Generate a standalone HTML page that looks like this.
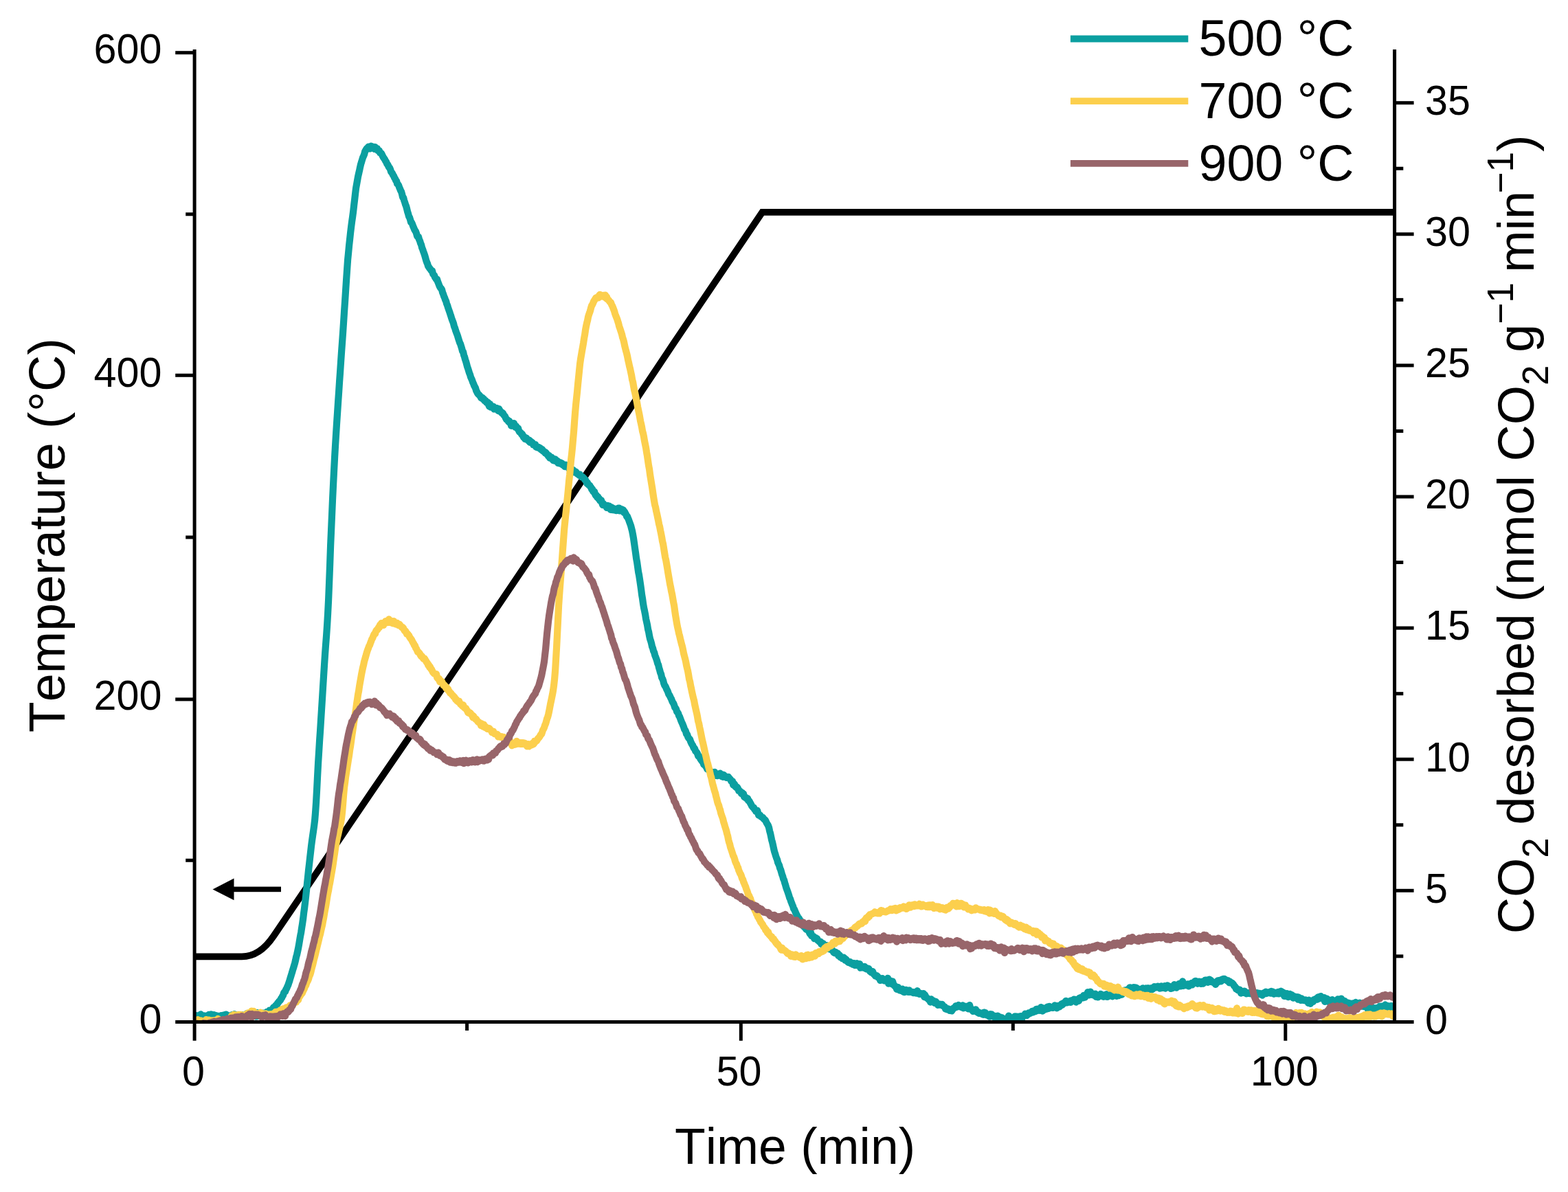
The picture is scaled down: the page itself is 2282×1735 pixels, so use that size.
<!DOCTYPE html>
<html lang="en"><head><meta charset="utf-8"><title>CO2 TPD</title>
<style>html,body{margin:0;padding:0;background:#fff}body{width:2282px;height:1735px;overflow:hidden}svg{display:block}text{font-family:"Liberation Sans", Arial, Helvetica, sans-serif;fill:#000;font-kerning:none;font-variant-ligatures:none}</style></head><body>
<svg xmlns="http://www.w3.org/2000/svg" width="2282" height="1735" viewBox="0 0 2282 1735">
<rect width="2282" height="1735" fill="#fff"/>
<defs><clipPath id="plot"><rect x="283.1" y="71.9" width="1746.5" height="1418.0"/></clipPath></defs>
<g clip-path="url(#plot)" fill="none" stroke-linejoin="round" stroke-linecap="butt">
<path d="M283.1,1392.4 L352,1392.4 Q378.0,1392.4 398.0,1362.8 L542.9,1149.5 L619.8,1037.5 L780.3,799.5 L980.2,500.0 L1109.3,308.9 L2029.6,308.9" stroke="#000" stroke-width="9.8" stroke-linejoin="miter"/>
<path d="M283.1,1479.0 284.1,1481.0 285.1,1480.8 286.1,1478.3 287.1,1478.6 288.1,1478.2 289.1,1479.8 290.1,1478.9 291.1,1480.1 292.1,1476.3 293.1,1481.3 294.1,1478.9 295.1,1480.0 296.1,1478.8 297.1,1478.5 298.1,1479.7 299.1,1480.2 300.1,1478.7 301.1,1478.8 302.1,1480.0 303.1,1477.8 304.1,1476.9 305.1,1479.6 306.1,1478.1 307.1,1476.3 308.1,1478.0 309.1,1478.5 310.1,1477.5 311.1,1477.1 312.1,1479.3 313.1,1480.6 314.1,1479.0 315.1,1478.2 316.1,1479.9 317.1,1480.3 318.1,1478.9 319.1,1480.1 320.1,1480.8 321.1,1479.0 322.1,1478.1 323.1,1479.8 324.1,1479.6 325.1,1480.8 326.1,1477.3 327.1,1478.2 328.1,1477.9 329.1,1476.6 330.1,1479.3 331.1,1479.9 332.1,1478.0 333.1,1481.1 334.1,1480.2 335.1,1479.9 336.1,1479.5 337.1,1480.3 338.1,1477.0 339.1,1479.7 340.1,1479.7 341.1,1476.2 342.1,1479.2 343.1,1478.2 344.1,1479.7 345.1,1477.8 346.1,1478.4 347.1,1478.8 348.1,1477.0 349.1,1479.1 350.1,1478.0 351.1,1478.8 352.1,1477.2 353.1,1479.5 354.1,1478.7 355.1,1477.5 356.1,1478.7 357.1,1479.5 358.1,1480.2 359.1,1475.3 360.1,1478.8 361.1,1478.1 362.1,1477.2 363.1,1475.8 364.1,1479.0 365.1,1475.3 366.1,1477.9 367.1,1478.9 368.1,1474.6 369.1,1476.4 370.1,1474.9 371.1,1477.1 372.1,1478.8 373.1,1479.5 374.1,1474.0 375.1,1475.6 376.1,1477.4 377.1,1478.6 378.1,1476.9 379.1,1475.1 380.1,1476.5 381.1,1476.0 382.1,1475.6 383.1,1474.7 384.1,1476.2 385.1,1475.9 386.1,1475.1 387.1,1474.7 388.1,1472.9 389.1,1473.5 390.1,1475.0 391.1,1472.7 392.1,1470.7 393.1,1473.1 394.1,1471.4 395.1,1472.3 396.1,1469.3 397.1,1468.0 398.1,1466.2 399.1,1467.9 400.1,1467.9 401.1,1463.8 402.1,1462.7 403.1,1462.5 404.1,1460.0 405.1,1459.1 406.1,1457.6 407.1,1456.6 408.1,1455.7 409.1,1453.4 410.1,1452.5 411.1,1449.9 412.1,1448.7 413.1,1445.2 414.1,1443.8 415.1,1443.3 416.1,1440.3 417.1,1438.8 418.1,1436.3 419.1,1434.3 420.1,1431.3 421.1,1428.6 422.1,1425.0 423.1,1421.7 424.1,1418.5 425.1,1415.3 426.1,1411.7 427.1,1408.6 428.1,1405.3 429.1,1401.8 430.1,1397.7 431.1,1392.9 432.1,1389.4 433.1,1384.8 434.1,1380.2 435.1,1374.7 436.1,1368.5 437.1,1362.5 438.1,1357.6 439.1,1350.7 440.1,1344.5 441.1,1337.6 442.1,1329.0 443.1,1321.7 444.1,1313.5 445.1,1304.6 446.1,1295.0 447.1,1285.3 448.1,1276.0 449.1,1266.1 450.1,1257.7 451.1,1248.5 452.1,1239.9 453.1,1231.0 454.1,1223.3 455.1,1216.3 456.1,1209.4 457.1,1202.4 458.1,1194.2 459.1,1182.3 460.1,1167.7 461.1,1149.4 462.1,1129.5 463.1,1110.6 464.1,1094.5 465.1,1077.9 466.1,1063.3 467.1,1047.1 468.1,1031.3 469.1,1015.4 470.1,998.9 471.1,983.0 472.1,966.8 473.1,951.6 474.1,937.8 475.1,925.0 476.1,910.1 477.1,893.3 478.1,873.3 479.1,848.4 480.1,822.8 481.1,794.4 482.1,771.3 483.1,748.4 484.1,725.2 485.1,704.5 486.1,684.5 487.1,665.2 488.1,647.5 489.1,631.4 490.1,615.4 491.1,600.3 492.1,585.2 493.1,570.7 494.1,555.2 495.1,541.1 496.1,526.0 497.1,511.4 498.1,497.7 499.1,483.7 500.1,468.5 501.1,452.7 502.1,438.2 503.1,422.5 504.1,407.0 505.1,392.3 506.1,378.1 507.1,367.9 508.1,357.3 509.1,348.1 510.1,338.7 511.1,330.4 512.1,322.7 513.1,315.7 514.1,308.3 515.1,299.1 516.1,290.9 517.1,281.9 518.1,273.6 519.1,268.1 520.1,262.5 521.1,256.9 522.1,252.5 523.1,248.2 524.1,243.3 525.1,239.0 526.1,235.9 527.1,232.4 528.1,229.2 529.1,227.1 530.1,224.8 531.1,220.7 532.1,218.8 533.1,217.1 534.1,215.7 535.1,215.5 536.1,213.7 537.1,214.8 538.1,216.5 539.1,214.7 540.1,212.6 541.1,214.5 542.1,215.6 543.1,214.6 544.1,213.8 545.1,216.9 546.1,214.0 547.1,216.6 548.1,216.7 549.1,216.3 550.1,219.6 551.1,219.8 552.1,219.7 553.1,222.5 554.1,223.0 555.1,223.2 556.1,225.5 557.1,227.6 558.1,229.4 559.1,230.7 560.1,232.3 561.1,234.3 562.1,235.6 563.1,238.3 564.1,239.4 565.1,241.4 566.1,243.5 567.1,244.4 568.1,246.6 569.1,250.0 570.1,251.1 571.1,252.6 572.1,254.9 573.1,256.3 574.1,258.7 575.1,260.1 576.1,262.7 577.1,263.5 578.1,267.4 579.1,268.3 580.1,269.7 581.1,272.6 582.1,274.8 583.1,277.4 584.1,279.1 585.1,282.6 586.1,287.3 587.1,287.6 588.1,291.6 589.1,294.4 590.1,297.8 591.1,300.1 592.1,303.9 593.1,308.2 594.1,311.2 595.1,315.1 596.1,316.6 597.1,319.7 598.1,323.7 599.1,324.0 600.1,326.3 601.1,329.1 602.1,331.3 603.1,333.9 604.1,335.6 605.1,337.1 606.1,339.9 607.1,343.6 608.1,345.0 609.1,344.9 610.1,348.8 611.1,350.8 612.1,354.2 613.1,356.4 614.1,360.5 615.1,362.9 616.1,365.9 617.1,368.6 618.1,371.5 619.1,375.0 620.1,378.8 621.1,381.6 622.1,383.9 623.1,387.3 624.1,388.7 625.1,390.3 626.1,391.4 627.1,393.0 628.1,394.5 629.1,394.4 630.1,398.6 631.1,399.9 632.1,401.0 633.1,403.7 634.1,405.0 635.1,406.8 636.1,406.7 637.1,410.0 638.1,412.4 639.1,415.1 640.1,417.3 641.1,419.2 642.1,419.9 643.1,421.7 644.1,425.8 645.1,428.1 646.1,431.3 647.1,433.4 648.1,436.4 649.1,438.3 650.1,442.1 651.1,444.5 652.1,447.8 653.1,450.7 654.1,453.4 655.1,456.6 656.1,459.5 657.1,462.9 658.1,465.8 659.1,468.2 660.1,471.2 661.1,475.4 662.1,477.5 663.1,481.1 664.1,483.8 665.1,486.3 666.1,489.2 667.1,492.6 668.1,495.7 669.1,498.8 670.1,500.7 671.1,504.0 672.1,507.3 673.1,511.2 674.1,512.2 675.1,516.9 676.1,519.6 677.1,523.4 678.1,526.2 679.1,529.8 680.1,533.7 681.1,536.4 682.1,539.8 683.1,543.0 684.1,545.4 685.1,549.0 686.1,551.2 687.1,553.4 688.1,556.3 689.1,558.5 690.1,561.3 691.1,563.1 692.1,565.0 693.1,568.6 694.1,570.4 695.1,572.5 696.1,573.8 697.1,574.7 698.1,575.7 699.1,576.9 700.1,579.0 701.1,579.3 702.1,578.8 703.1,581.1 704.1,580.7 705.1,583.2 706.1,582.8 707.1,583.6 708.1,585.9 709.1,586.6 710.1,585.8 711.1,589.1 712.1,591.4 713.1,588.2 714.1,592.6 715.1,590.6 716.1,591.5 717.1,592.5 718.1,591.7 719.1,595.5 720.1,595.2 721.1,594.1 722.1,595.2 723.1,594.0 724.1,595.9 725.1,597.9 726.1,595.1 727.1,597.1 728.1,598.3 729.1,599.9 730.1,601.1 731.1,600.6 732.1,601.7 733.1,604.1 734.1,604.9 735.1,606.3 736.1,608.7 737.1,610.6 738.1,610.8 739.1,611.9 740.1,613.9 741.1,612.8 742.1,615.6 743.1,615.4 744.1,619.8 745.1,618.5 746.1,618.3 747.1,618.3 748.1,616.1 749.1,620.3 750.1,621.8 751.1,620.3 752.1,622.7 753.1,623.9 754.1,623.4 755.1,626.9 756.1,628.7 757.1,629.2 758.1,630.3 759.1,632.3 760.1,631.9 761.1,634.6 762.1,636.7 763.1,635.9 764.1,639.0 765.1,638.5 766.1,637.5 767.1,640.2 768.1,639.8 769.1,641.9 770.1,640.6 771.1,643.8 772.1,642.3 773.1,644.1 774.1,643.7 775.1,644.8 776.1,647.2 777.1,647.0 778.1,647.2 779.1,647.1 780.1,650.5 781.1,650.9 782.1,650.5 783.1,651.8 784.1,651.0 785.1,651.6 786.1,652.3 787.1,654.3 788.1,654.8 789.1,654.1 790.1,656.4 791.1,657.1 792.1,657.1 793.1,658.9 794.1,658.5 795.1,659.7 796.1,661.4 797.1,662.1 798.1,664.0 799.1,663.0 800.1,666.6 801.1,665.2 802.1,666.5 803.1,665.8 804.1,668.7 805.1,670.1 806.1,670.4 807.1,670.7 808.1,668.4 809.1,669.8 810.1,670.8 811.1,670.8 812.1,673.9 813.1,673.3 814.1,673.6 815.1,674.7 816.1,673.5 817.1,674.1 818.1,674.7 819.1,676.9 820.1,677.2 821.1,678.0 822.1,679.2 823.1,676.6 824.1,678.1 825.1,679.5 826.1,678.2 827.1,679.7 828.1,682.1 829.1,682.8 830.1,683.4 831.1,682.7 832.1,683.1 833.1,685.2 834.1,684.2 835.1,685.7 836.1,687.5 837.1,686.3 838.1,686.8 839.1,688.2 840.1,689.6 841.1,690.3 842.1,690.7 843.1,692.0 844.1,690.6 845.1,692.2 846.1,694.1 847.1,693.8 848.1,694.3 849.1,695.3 850.1,696.5 851.1,698.2 852.1,698.5 853.1,700.8 854.1,703.2 855.1,702.9 856.1,705.4 857.1,706.0 858.1,706.3 859.1,708.4 860.1,709.3 861.1,712.1 862.1,712.0 863.1,715.3 864.1,716.2 865.1,715.6 866.1,719.3 867.1,721.4 868.1,721.0 869.1,723.9 870.1,723.0 871.1,726.0 872.1,725.6 873.1,728.6 874.1,727.8 875.1,728.2 876.1,732.0 877.1,734.9 878.1,733.0 879.1,735.4 880.1,735.4 881.1,735.6 882.1,737.2 883.1,739.0 884.1,735.9 885.1,738.6 886.1,738.7 887.1,736.7 888.1,741.2 889.1,742.0 890.1,738.3 891.1,742.2 892.1,740.1 893.1,740.0 894.1,742.5 895.1,740.9 896.1,741.2 897.1,743.1 898.1,743.0 899.1,742.6 900.1,739.6 901.1,739.6 902.1,743.5 903.1,740.9 904.1,742.6 905.1,741.4 906.1,742.9 907.1,742.4 908.1,746.1 909.1,745.0 910.1,747.2 911.1,748.9 912.1,751.7 913.1,751.8 914.1,754.7 915.1,756.9 916.1,759.8 917.1,762.5 918.1,765.2 919.1,769.2 920.1,773.1 921.1,778.4 922.1,784.2 923.1,791.2 924.1,798.4 925.1,805.3 926.1,812.8 927.1,818.3 928.1,825.4 929.1,832.6 930.1,837.4 931.1,844.0 932.1,850.8 933.1,857.9 934.1,865.9 935.1,871.7 936.1,879.1 937.1,884.9 938.1,889.4 939.1,894.5 940.1,900.9 941.1,905.4 942.1,909.9 943.1,916.2 944.1,919.8 945.1,925.6 946.1,930.1 947.1,933.0 948.1,936.7 949.1,941.3 950.1,943.6 951.1,947.7 952.1,949.6 953.1,953.6 954.1,956.1 955.1,958.9 956.1,961.7 957.1,965.6 958.1,967.7 959.1,972.0 960.1,975.3 961.1,979.1 962.1,981.4 963.1,986.1 964.1,988.0 965.1,990.4 966.1,994.6 967.1,997.3 968.1,998.6 969.1,1000.4 970.1,1003.1 971.1,1004.8 972.1,1007.1 973.1,1010.3 974.1,1011.6 975.1,1013.5 976.1,1015.7 977.1,1017.5 978.1,1020.3 979.1,1022.4 980.1,1023.8 981.1,1026.2 982.1,1029.7 983.1,1030.7 984.1,1032.4 985.1,1036.0 986.1,1036.9 987.1,1038.5 988.1,1041.8 989.1,1043.2 990.1,1045.9 991.1,1048.8 992.1,1051.1 993.1,1053.2 994.1,1055.8 995.1,1058.2 996.1,1061.6 997.1,1062.7 998.1,1064.9 999.1,1068.6 1000.1,1069.0 1001.1,1072.3 1002.1,1074.2 1003.1,1075.2 1004.1,1076.3 1005.1,1079.4 1006.1,1081.5 1007.1,1083.5 1008.1,1084.8 1009.1,1087.4 1010.1,1089.4 1011.1,1089.6 1012.1,1093.1 1013.1,1094.0 1014.1,1095.2 1015.1,1097.1 1016.1,1100.3 1017.1,1101.4 1018.1,1101.1 1019.1,1104.1 1020.1,1105.6 1021.1,1107.1 1022.1,1108.4 1023.1,1109.2 1024.1,1112.4 1025.1,1112.4 1026.1,1114.3 1027.1,1115.5 1028.1,1116.7 1029.1,1119.2 1030.1,1120.0 1031.1,1120.0 1032.1,1120.6 1033.1,1121.8 1034.1,1124.1 1035.1,1123.9 1036.1,1124.6 1037.1,1124.5 1038.1,1125.1 1039.1,1126.2 1040.1,1123.8 1041.1,1128.8 1042.1,1125.7 1043.1,1126.2 1044.1,1129.1 1045.1,1127.7 1046.1,1127.6 1047.1,1126.8 1048.1,1125.7 1049.1,1128.3 1050.1,1130.0 1051.1,1127.4 1052.1,1130.8 1053.1,1127.8 1054.1,1128.7 1055.1,1130.8 1056.1,1130.6 1057.1,1131.9 1058.1,1130.7 1059.1,1131.1 1060.1,1130.9 1061.1,1132.5 1062.1,1133.6 1063.1,1134.4 1064.1,1137.1 1065.1,1137.3 1066.1,1137.3 1067.1,1142.4 1068.1,1140.6 1069.1,1141.4 1070.1,1144.8 1071.1,1145.9 1072.1,1145.2 1073.1,1146.2 1074.1,1147.9 1075.1,1151.0 1076.1,1150.9 1077.1,1151.5 1078.1,1153.2 1079.1,1155.3 1080.1,1153.8 1081.1,1155.7 1082.1,1155.7 1083.1,1160.0 1084.1,1160.6 1085.1,1160.8 1086.1,1161.0 1087.1,1163.0 1088.1,1162.1 1089.1,1165.4 1090.1,1165.7 1091.1,1167.2 1092.1,1169.2 1093.1,1170.9 1094.1,1173.0 1095.1,1174.4 1096.1,1175.4 1097.1,1175.6 1098.1,1178.2 1099.1,1178.7 1100.1,1181.0 1101.1,1180.4 1102.1,1179.8 1103.1,1183.0 1104.1,1186.5 1105.1,1186.0 1106.1,1186.3 1107.1,1188.3 1108.1,1188.9 1109.1,1189.8 1110.1,1189.8 1111.1,1191.4 1112.1,1192.6 1113.1,1193.1 1114.1,1194.2 1115.1,1196.5 1116.1,1198.5 1117.1,1200.0 1118.1,1201.9 1119.1,1204.7 1120.1,1209.6 1121.1,1213.0 1122.1,1217.8 1123.1,1222.6 1124.1,1226.2 1125.1,1230.7 1126.1,1235.4 1127.1,1239.7 1128.1,1242.6 1129.1,1246.0 1130.1,1249.0 1131.1,1251.3 1132.1,1255.5 1133.1,1257.7 1134.1,1259.8 1135.1,1263.6 1136.1,1265.8 1137.1,1269.2 1138.1,1272.8 1139.1,1275.3 1140.1,1279.4 1141.1,1281.0 1142.1,1284.9 1143.1,1288.1 1144.1,1291.7 1145.1,1294.5 1146.1,1297.2 1147.1,1300.2 1148.1,1303.2 1149.1,1306.7 1150.1,1308.5 1151.1,1311.9 1152.1,1314.2 1153.1,1317.0 1154.1,1319.2 1155.1,1323.0 1156.1,1323.7 1157.1,1326.4 1158.1,1328.6 1159.1,1330.8 1160.1,1332.7 1161.1,1334.6 1162.1,1336.8 1163.1,1336.9 1164.1,1339.6 1165.1,1340.3 1166.1,1342.9 1167.1,1343.2 1168.1,1344.7 1169.1,1346.7 1170.1,1349.1 1171.1,1349.6 1172.1,1350.5 1173.1,1352.6 1174.1,1351.5 1175.1,1351.6 1176.1,1354.2 1177.1,1355.4 1178.1,1357.8 1179.1,1359.7 1180.1,1357.5 1181.1,1362.1 1182.1,1362.3 1183.1,1362.6 1184.1,1363.1 1185.1,1366.1 1186.1,1364.7 1187.1,1365.1 1188.1,1366.7 1189.1,1366.1 1190.1,1368.8 1191.1,1369.1 1192.1,1370.4 1193.1,1371.3 1194.1,1370.7 1195.1,1374.0 1196.1,1372.4 1197.1,1375.2 1198.1,1373.3 1199.1,1376.2 1200.1,1375.6 1201.1,1377.2 1202.1,1377.1 1203.1,1376.0 1204.1,1377.9 1205.1,1379.9 1206.1,1381.2 1207.1,1379.4 1208.1,1379.3 1209.1,1381.4 1210.1,1382.8 1211.1,1383.0 1212.1,1383.4 1213.1,1386.0 1214.1,1386.8 1215.1,1387.2 1216.1,1385.9 1217.1,1387.8 1218.1,1388.1 1219.1,1387.4 1220.1,1390.7 1221.1,1390.5 1222.1,1390.5 1223.1,1393.3 1224.1,1393.3 1225.1,1394.1 1226.1,1395.2 1227.1,1395.3 1228.1,1393.7 1229.1,1395.4 1230.1,1397.7 1231.1,1396.2 1232.1,1397.7 1233.1,1398.7 1234.1,1400.5 1235.1,1400.9 1236.1,1400.9 1237.1,1400.1 1238.1,1402.0 1239.1,1402.0 1240.1,1401.5 1241.1,1403.9 1242.1,1403.2 1243.1,1402.0 1244.1,1405.0 1245.1,1403.3 1246.1,1404.8 1247.1,1402.2 1248.1,1404.6 1249.1,1403.6 1250.1,1403.9 1251.1,1403.0 1252.1,1408.7 1253.1,1406.1 1254.1,1407.0 1255.1,1408.5 1256.1,1407.4 1257.1,1408.7 1258.1,1406.8 1259.1,1409.2 1260.1,1409.0 1261.1,1410.6 1262.1,1410.8 1263.1,1409.6 1264.1,1409.7 1265.1,1411.4 1266.1,1414.0 1267.1,1414.6 1268.1,1415.4 1269.1,1413.9 1270.1,1414.1 1271.1,1417.2 1272.1,1418.3 1273.1,1418.9 1274.1,1420.7 1275.1,1420.7 1276.1,1420.2 1277.1,1421.1 1278.1,1422.8 1279.1,1423.3 1280.1,1423.6 1281.1,1427.0 1282.1,1424.3 1283.1,1425.2 1284.1,1424.2 1285.1,1425.4 1286.1,1427.0 1287.1,1427.4 1288.1,1426.8 1289.1,1427.9 1290.1,1427.7 1291.1,1425.4 1292.1,1423.8 1293.1,1431.6 1294.1,1429.9 1295.1,1429.1 1296.1,1427.5 1297.1,1428.6 1298.1,1432.3 1299.1,1428.5 1300.1,1432.1 1301.1,1434.3 1302.1,1434.6 1303.1,1436.2 1304.1,1436.3 1305.1,1439.9 1306.1,1436.9 1307.1,1437.1 1308.1,1439.5 1309.1,1441.4 1310.1,1440.0 1311.1,1441.8 1312.1,1440.1 1313.1,1439.5 1314.1,1443.3 1315.1,1443.8 1316.1,1444.1 1317.1,1441.6 1318.1,1440.8 1319.1,1441.0 1320.1,1442.5 1321.1,1443.9 1322.1,1443.9 1323.1,1441.3 1324.1,1443.8 1325.1,1443.7 1326.1,1443.9 1327.1,1443.9 1328.1,1443.8 1329.1,1445.1 1330.1,1444.6 1331.1,1444.9 1332.1,1443.8 1333.1,1445.4 1334.1,1444.9 1335.1,1442.2 1336.1,1446.0 1337.1,1445.1 1338.1,1447.0 1339.1,1445.7 1340.1,1446.1 1341.1,1446.8 1342.1,1447.0 1343.1,1447.1 1344.1,1446.2 1345.1,1451.1 1346.1,1448.0 1347.1,1450.2 1348.1,1452.1 1349.1,1452.6 1350.1,1453.5 1351.1,1454.4 1352.1,1455.5 1353.1,1454.9 1354.1,1458.6 1355.1,1454.3 1356.1,1456.3 1357.1,1456.1 1358.1,1456.4 1359.1,1457.9 1360.1,1459.8 1361.1,1457.6 1362.1,1458.1 1363.1,1460.4 1364.1,1460.7 1365.1,1462.9 1366.1,1462.3 1367.1,1461.8 1368.1,1461.6 1369.1,1462.7 1370.1,1462.8 1371.1,1461.9 1372.1,1464.0 1373.1,1464.4 1374.1,1465.0 1375.1,1465.5 1376.1,1468.6 1377.1,1468.3 1378.1,1469.3 1379.1,1468.2 1380.1,1468.3 1381.1,1469.7 1382.1,1470.8 1383.1,1470.1 1384.1,1470.3 1385.1,1471.5 1386.1,1470.0 1387.1,1467.7 1388.1,1467.5 1389.1,1466.4 1390.1,1466.5 1391.1,1464.1 1392.1,1464.7 1393.1,1465.4 1394.1,1464.3 1395.1,1463.0 1396.1,1463.5 1397.1,1464.7 1398.1,1465.3 1399.1,1466.0 1400.1,1464.8 1401.1,1463.4 1402.1,1467.4 1403.1,1466.1 1404.1,1466.4 1405.1,1466.5 1406.1,1464.8 1407.1,1466.0 1408.1,1467.1 1409.1,1468.4 1410.1,1467.2 1411.1,1463.0 1412.1,1467.3 1413.1,1468.4 1414.1,1469.9 1415.1,1469.4 1416.1,1472.0 1417.1,1471.0 1418.1,1471.4 1419.1,1471.5 1420.1,1469.4 1421.1,1472.8 1422.1,1473.2 1423.1,1472.6 1424.1,1474.5 1425.1,1474.9 1426.1,1474.2 1427.1,1475.0 1428.1,1475.1 1429.1,1476.0 1430.1,1475.3 1431.1,1476.8 1432.1,1473.5 1433.1,1476.0 1434.1,1474.1 1435.1,1476.0 1436.1,1477.6 1437.1,1477.0 1438.1,1477.0 1439.1,1477.4 1440.1,1479.7 1441.1,1476.2 1442.1,1479.2 1443.1,1476.3 1444.1,1478.0 1445.1,1479.3 1446.1,1478.3 1447.1,1480.2 1448.1,1481.3 1449.1,1479.0 1450.1,1480.9 1451.1,1480.7 1452.1,1478.6 1453.1,1481.2 1454.1,1480.5 1455.1,1483.6 1456.1,1480.6 1457.1,1484.4 1458.1,1481.2 1459.1,1484.9 1460.1,1482.9 1461.1,1482.9 1462.1,1483.4 1463.1,1483.6 1464.1,1484.4 1465.1,1484.9 1466.1,1481.9 1467.1,1480.6 1468.1,1478.5 1469.1,1481.8 1470.1,1483.4 1471.1,1482.8 1472.1,1482.4 1473.1,1481.7 1474.1,1481.2 1475.1,1481.6 1476.1,1482.5 1477.1,1479.3 1478.1,1482.8 1479.1,1479.5 1480.1,1481.3 1481.1,1480.5 1482.1,1480.8 1483.1,1479.6 1484.1,1479.3 1485.1,1480.4 1486.1,1479.0 1487.1,1483.6 1488.1,1479.4 1489.1,1478.8 1490.1,1478.6 1491.1,1477.6 1492.1,1475.5 1493.1,1477.9 1494.1,1478.1 1495.1,1475.3 1496.1,1476.5 1497.1,1474.4 1498.1,1475.1 1499.1,1474.9 1500.1,1474.4 1501.1,1473.8 1502.1,1471.8 1503.1,1473.5 1504.1,1471.4 1505.1,1472.1 1506.1,1472.3 1507.1,1470.6 1508.1,1469.0 1509.1,1471.4 1510.1,1468.7 1511.1,1468.8 1512.1,1468.3 1513.1,1470.8 1514.1,1469.1 1515.1,1466.0 1516.1,1470.0 1517.1,1471.6 1518.1,1471.0 1519.1,1467.5 1520.1,1468.2 1521.1,1468.6 1522.1,1468.9 1523.1,1467.5 1524.1,1465.7 1525.1,1468.1 1526.1,1467.8 1527.1,1464.8 1528.1,1466.0 1529.1,1466.7 1530.1,1466.2 1531.1,1466.7 1532.1,1466.9 1533.1,1466.4 1534.1,1465.3 1535.1,1463.3 1536.1,1465.9 1537.1,1466.7 1538.1,1467.3 1539.1,1464.2 1540.1,1463.9 1541.1,1465.6 1542.1,1465.3 1543.1,1463.4 1544.1,1463.5 1545.1,1461.1 1546.1,1462.5 1547.1,1460.2 1548.1,1460.7 1549.1,1460.3 1550.1,1459.4 1551.1,1456.8 1552.1,1458.2 1553.1,1459.4 1554.1,1458.6 1555.1,1457.8 1556.1,1458.7 1557.1,1458.8 1558.1,1458.8 1559.1,1456.3 1560.1,1457.2 1561.1,1456.5 1562.1,1455.5 1563.1,1454.5 1564.1,1456.2 1565.1,1454.9 1566.1,1458.7 1567.1,1455.4 1568.1,1454.9 1569.1,1454.3 1570.1,1456.8 1571.1,1452.7 1572.1,1453.2 1573.1,1451.9 1574.1,1452.1 1575.1,1451.7 1576.1,1452.5 1577.1,1448.9 1578.1,1450.1 1579.1,1451.7 1580.1,1448.6 1581.1,1448.5 1582.1,1447.0 1583.1,1444.2 1584.1,1447.0 1585.1,1448.4 1586.1,1445.8 1587.1,1443.6 1588.1,1446.6 1589.1,1446.4 1590.1,1448.1 1591.1,1448.4 1592.1,1447.4 1593.1,1448.9 1594.1,1446.5 1595.1,1450.9 1596.1,1449.9 1597.1,1451.3 1598.1,1451.3 1599.1,1449.4 1600.1,1449.6 1601.1,1448.5 1602.1,1446.8 1603.1,1449.6 1604.1,1450.0 1605.1,1448.2 1606.1,1450.8 1607.1,1449.9 1608.1,1450.4 1609.1,1448.7 1610.1,1447.2 1611.1,1450.9 1612.1,1450.7 1613.1,1449.6 1614.1,1449.1 1615.1,1449.2 1616.1,1449.3 1617.1,1448.7 1618.1,1446.4 1619.1,1450.3 1620.1,1446.9 1621.1,1448.4 1622.1,1448.2 1623.1,1448.8 1624.1,1446.0 1625.1,1449.8 1626.1,1448.8 1627.1,1448.7 1628.1,1449.2 1629.1,1446.1 1630.1,1442.7 1631.1,1447.1 1632.1,1447.9 1633.1,1447.3 1634.1,1444.6 1635.1,1444.6 1636.1,1444.4 1637.1,1441.3 1638.1,1442.0 1639.1,1441.4 1640.1,1443.5 1641.1,1440.2 1642.1,1442.4 1643.1,1440.0 1644.1,1437.3 1645.1,1442.3 1646.1,1437.7 1647.1,1439.8 1648.1,1441.4 1649.1,1438.2 1650.1,1437.2 1651.1,1440.6 1652.1,1439.3 1653.1,1437.5 1654.1,1437.9 1655.1,1439.0 1656.1,1441.1 1657.1,1439.5 1658.1,1440.9 1659.1,1442.5 1660.1,1442.1 1661.1,1442.5 1662.1,1442.3 1663.1,1438.3 1664.1,1442.4 1665.1,1441.2 1666.1,1440.5 1667.1,1439.1 1668.1,1438.3 1669.1,1438.8 1670.1,1440.2 1671.1,1438.3 1672.1,1438.6 1673.1,1438.6 1674.1,1440.0 1675.1,1438.4 1676.1,1438.3 1677.1,1440.1 1678.1,1437.5 1679.1,1438.6 1680.1,1436.0 1681.1,1437.8 1682.1,1437.4 1683.1,1437.4 1684.1,1436.4 1685.1,1435.6 1686.1,1436.7 1687.1,1436.4 1688.1,1438.6 1689.1,1438.4 1690.1,1435.4 1691.1,1438.0 1692.1,1436.4 1693.1,1437.8 1694.1,1436.4 1695.1,1435.0 1696.1,1438.6 1697.1,1437.8 1698.1,1435.3 1699.1,1434.4 1700.1,1436.3 1701.1,1435.4 1702.1,1436.6 1703.1,1437.9 1704.1,1439.0 1705.1,1436.1 1706.1,1438.3 1707.1,1437.6 1708.1,1435.1 1709.1,1433.1 1710.1,1436.3 1711.1,1435.7 1712.1,1437.7 1713.1,1436.2 1714.1,1435.0 1715.1,1435.9 1716.1,1431.8 1717.1,1433.3 1718.1,1432.5 1719.1,1435.3 1720.1,1433.6 1721.1,1428.4 1722.1,1434.9 1723.1,1431.7 1724.1,1434.3 1725.1,1432.6 1726.1,1433.8 1727.1,1434.4 1728.1,1433.9 1729.1,1432.3 1730.1,1435.5 1731.1,1433.8 1732.1,1432.8 1733.1,1433.2 1734.1,1430.9 1735.1,1433.4 1736.1,1430.7 1737.1,1430.5 1738.1,1430.1 1739.1,1428.2 1740.1,1427.9 1741.1,1429.9 1742.1,1430.2 1743.1,1431.8 1744.1,1430.6 1745.1,1428.6 1746.1,1431.0 1747.1,1431.5 1748.1,1431.9 1749.1,1430.9 1750.1,1428.6 1751.1,1431.6 1752.1,1428.6 1753.1,1429.9 1754.1,1426.5 1755.1,1429.1 1756.1,1426.6 1757.1,1428.9 1758.1,1429.7 1759.1,1428.8 1760.1,1425.6 1761.1,1426.2 1762.1,1426.7 1763.1,1429.2 1764.1,1429.1 1765.1,1429.3 1766.1,1429.9 1767.1,1430.7 1768.1,1431.1 1769.1,1432.8 1770.1,1430.3 1771.1,1430.6 1772.1,1427.4 1773.1,1427.8 1774.1,1428.1 1775.1,1426.9 1776.1,1428.0 1777.1,1428.4 1778.1,1425.9 1779.1,1425.4 1780.1,1425.0 1781.1,1425.7 1782.1,1424.8 1783.1,1426.3 1784.1,1426.4 1785.1,1426.7 1786.1,1427.7 1787.1,1427.2 1788.1,1427.8 1789.1,1430.3 1790.1,1428.8 1791.1,1430.3 1792.1,1430.2 1793.1,1430.7 1794.1,1431.9 1795.1,1432.9 1796.1,1435.0 1797.1,1435.7 1798.1,1437.0 1799.1,1439.5 1800.1,1438.8 1801.1,1440.9 1802.1,1440.5 1803.1,1441.8 1804.1,1440.5 1805.1,1441.9 1806.1,1445.6 1807.1,1443.7 1808.1,1444.3 1809.1,1443.7 1810.1,1444.9 1811.1,1442.6 1812.1,1443.4 1813.1,1445.5 1814.1,1446.4 1815.1,1445.1 1816.1,1445.7 1817.1,1445.7 1818.1,1446.1 1819.1,1444.8 1820.1,1444.5 1821.1,1446.5 1822.1,1444.1 1823.1,1445.2 1824.1,1445.6 1825.1,1445.1 1826.1,1446.9 1827.1,1445.9 1828.1,1446.5 1829.1,1445.1 1830.1,1445.5 1831.1,1447.3 1832.1,1447.1 1833.1,1445.9 1834.1,1447.1 1835.1,1446.8 1836.1,1446.8 1837.1,1448.7 1838.1,1445.7 1839.1,1446.6 1840.1,1446.4 1841.1,1445.2 1842.1,1443.6 1843.1,1446.1 1844.1,1445.4 1845.1,1445.0 1846.1,1445.0 1847.1,1445.1 1848.1,1443.8 1849.1,1445.7 1850.1,1442.8 1851.1,1445.5 1852.1,1443.4 1853.1,1445.2 1854.1,1446.8 1855.1,1445.3 1856.1,1444.9 1857.1,1446.1 1858.1,1444.8 1859.1,1444.3 1860.1,1444.0 1861.1,1446.5 1862.1,1445.1 1863.1,1444.8 1864.1,1442.7 1865.1,1445.6 1866.1,1443.7 1867.1,1446.6 1868.1,1445.3 1869.1,1449.9 1870.1,1445.7 1871.1,1449.9 1872.1,1449.6 1873.1,1446.2 1874.1,1448.5 1875.1,1451.0 1876.1,1450.7 1877.1,1446.8 1878.1,1448.6 1879.1,1447.8 1880.1,1448.2 1881.1,1449.0 1882.1,1452.7 1883.1,1450.7 1884.1,1450.5 1885.1,1450.7 1886.1,1452.5 1887.1,1452.9 1888.1,1451.1 1889.1,1454.7 1890.1,1451.5 1891.1,1452.8 1892.1,1454.1 1893.1,1456.0 1894.1,1453.3 1895.1,1454.3 1896.1,1455.9 1897.1,1455.2 1898.1,1456.1 1899.1,1456.2 1900.1,1455.6 1901.1,1456.7 1902.1,1457.7 1903.1,1457.2 1904.1,1460.0 1905.1,1455.6 1906.1,1457.4 1907.1,1460.9 1908.1,1459.2 1909.1,1457.2 1910.1,1457.8 1911.1,1457.9 1912.1,1455.0 1913.1,1455.9 1914.1,1454.2 1915.1,1453.7 1916.1,1453.5 1917.1,1454.8 1918.1,1451.4 1919.1,1452.2 1920.1,1453.5 1921.1,1450.6 1922.1,1450.0 1923.1,1453.0 1924.1,1452.3 1925.1,1452.4 1926.1,1453.2 1927.1,1452.2 1928.1,1457.9 1929.1,1453.4 1930.1,1454.5 1931.1,1453.6 1932.1,1455.1 1933.1,1458.0 1934.1,1456.2 1935.1,1457.2 1936.1,1455.9 1937.1,1459.3 1938.1,1457.1 1939.1,1455.2 1940.1,1458.2 1941.1,1456.6 1942.1,1458.0 1943.1,1457.2 1944.1,1457.3 1945.1,1457.0 1946.1,1455.4 1947.1,1454.4 1948.1,1457.9 1949.1,1456.2 1950.1,1456.7 1951.1,1455.7 1952.1,1453.6 1953.1,1455.0 1954.1,1459.1 1955.1,1456.8 1956.1,1457.9 1957.1,1457.1 1958.1,1458.9 1959.1,1459.5 1960.1,1460.0 1961.1,1460.4 1962.1,1459.7 1963.1,1459.9 1964.1,1460.8 1965.1,1461.3 1966.1,1460.7 1967.1,1463.5 1968.1,1461.3 1969.1,1461.3 1970.1,1460.2 1971.1,1462.7 1972.1,1459.9 1973.1,1459.1 1974.1,1460.1 1975.1,1462.4 1976.1,1460.0 1977.1,1463.5 1978.1,1461.7 1979.1,1459.7 1980.1,1461.7 1981.1,1464.6 1982.1,1461.2 1983.1,1460.9 1984.1,1463.8 1985.1,1465.2 1986.1,1465.3 1987.1,1464.1 1988.1,1465.2 1989.1,1465.9 1990.1,1467.5 1991.1,1469.3 1992.1,1466.8 1993.1,1469.1 1994.1,1467.3 1995.1,1468.9 1996.1,1467.0 1997.1,1467.3 1998.1,1469.1 1999.1,1467.2 2000.1,1469.6 2001.1,1467.4 2002.1,1468.0 2003.1,1467.6 2004.1,1466.9 2005.1,1467.3 2006.1,1468.3 2007.1,1470.9 2008.1,1464.7 2009.1,1466.6 2010.1,1465.8 2011.1,1464.6 2012.1,1466.2 2013.1,1464.4 2014.1,1465.4 2015.1,1467.2 2016.1,1462.4 2017.1,1465.7 2018.1,1465.9 2019.1,1463.9 2020.1,1466.1 2021.1,1466.0 2022.1,1465.0 2023.1,1467.4 2024.1,1464.0 2025.1,1466.9 2026.1,1465.9 2027.1,1464.9 2028.1,1466.4" stroke="#0b9fa0" stroke-width="10.2"/>
<path d="M283.1,1484.5 284.1,1484.8 285.1,1484.6 286.1,1485.6 287.1,1488.6 288.1,1484.2 289.1,1487.9 290.1,1488.3 291.1,1486.0 292.1,1485.5 293.1,1487.2 294.1,1488.3 295.1,1489.6 296.1,1487.8 297.1,1488.8 298.1,1485.8 299.1,1485.2 300.1,1484.0 301.1,1484.8 302.1,1486.0 303.1,1486.8 304.1,1484.6 305.1,1487.7 306.1,1486.4 307.1,1485.6 308.1,1485.4 309.1,1489.4 310.1,1486.7 311.1,1485.2 312.1,1485.1 313.1,1489.1 314.1,1485.6 315.1,1488.1 316.1,1488.4 317.1,1482.9 318.1,1488.2 319.1,1485.9 320.1,1484.6 321.1,1485.3 322.1,1486.8 323.1,1486.4 324.1,1486.3 325.1,1484.5 326.1,1487.0 327.1,1487.0 328.1,1487.1 329.1,1485.6 330.1,1486.5 331.1,1486.3 332.1,1484.0 333.1,1483.7 334.1,1482.8 335.1,1482.2 336.1,1482.2 337.1,1478.4 338.1,1479.8 339.1,1480.6 340.1,1476.8 341.1,1477.5 342.1,1481.4 343.1,1477.5 344.1,1478.1 345.1,1479.1 346.1,1477.7 347.1,1476.9 348.1,1477.2 349.1,1477.2 350.1,1476.8 351.1,1477.7 352.1,1479.6 353.1,1477.6 354.1,1479.3 355.1,1477.9 356.1,1477.9 357.1,1477.4 358.1,1476.0 359.1,1476.8 360.1,1476.5 361.1,1474.3 362.1,1476.9 363.1,1476.5 364.1,1476.1 365.1,1474.6 366.1,1471.5 367.1,1477.3 368.1,1475.0 369.1,1471.9 370.1,1476.0 371.1,1474.0 372.1,1476.0 373.1,1474.9 374.1,1476.7 375.1,1475.5 376.1,1475.6 377.1,1475.5 378.1,1477.2 379.1,1473.7 380.1,1477.3 381.1,1476.8 382.1,1475.1 383.1,1476.0 384.1,1475.5 385.1,1476.3 386.1,1477.7 387.1,1475.4 388.1,1477.5 389.1,1477.9 390.1,1477.4 391.1,1478.7 392.1,1476.3 393.1,1477.4 394.1,1479.9 395.1,1476.2 396.1,1475.9 397.1,1476.0 398.1,1476.6 399.1,1474.8 400.1,1475.1 401.1,1472.9 402.1,1473.5 403.1,1473.1 404.1,1472.4 405.1,1472.8 406.1,1473.7 407.1,1471.8 408.1,1470.2 409.1,1471.7 410.1,1471.1 411.1,1468.6 412.1,1470.1 413.1,1468.0 414.1,1468.1 415.1,1467.4 416.1,1468.8 417.1,1466.3 418.1,1466.3 419.1,1466.4 420.1,1466.9 421.1,1466.5 422.1,1463.4 423.1,1465.3 424.1,1463.7 425.1,1464.0 426.1,1463.0 427.1,1460.5 428.1,1460.2 429.1,1458.9 430.1,1458.5 431.1,1458.5 432.1,1456.0 433.1,1454.2 434.1,1455.5 435.1,1451.3 436.1,1450.7 437.1,1449.2 438.1,1446.7 439.1,1446.6 440.1,1445.0 441.1,1442.4 442.1,1440.6 443.1,1438.5 444.1,1435.4 445.1,1434.4 446.1,1431.2 447.1,1429.0 448.1,1427.2 449.1,1424.8 450.1,1420.9 451.1,1419.0 452.1,1416.1 453.1,1411.8 454.1,1408.0 455.1,1404.3 456.1,1400.0 457.1,1395.7 458.1,1392.3 459.1,1388.3 460.1,1383.7 461.1,1379.7 462.1,1375.6 463.1,1371.5 464.1,1367.3 465.1,1362.9 466.1,1359.8 467.1,1354.8 468.1,1350.5 469.1,1346.6 470.1,1340.6 471.1,1335.9 472.1,1329.6 473.1,1324.3 474.1,1319.2 475.1,1312.9 476.1,1306.5 477.1,1300.7 478.1,1296.0 479.1,1289.8 480.1,1285.1 481.1,1279.3 482.1,1273.4 483.1,1267.8 484.1,1262.1 485.1,1255.3 486.1,1248.0 487.1,1241.6 488.1,1234.5 489.1,1228.4 490.1,1223.3 491.1,1218.5 492.1,1214.6 493.1,1209.9 494.1,1205.7 495.1,1201.4 496.1,1196.9 497.1,1190.4 498.1,1181.9 499.1,1170.1 500.1,1156.9 501.1,1146.1 502.1,1138.8 503.1,1130.6 504.1,1124.4 505.1,1118.1 506.1,1111.7 507.1,1105.2 508.1,1099.4 509.1,1091.7 510.1,1085.8 511.1,1078.7 512.1,1071.3 513.1,1064.7 514.1,1058.0 515.1,1051.0 516.1,1045.3 517.1,1038.3 518.1,1031.7 519.1,1024.1 520.1,1017.9 521.1,1010.8 522.1,1005.7 523.1,998.6 524.1,992.9 525.1,987.4 526.1,981.5 527.1,976.4 528.1,971.6 529.1,967.8 530.1,962.8 531.1,959.3 532.1,956.0 533.1,952.4 534.1,948.8 535.1,945.9 536.1,943.5 537.1,940.5 538.1,939.0 539.1,935.9 540.1,933.5 541.1,930.5 542.1,929.1 543.1,926.4 544.1,924.0 545.1,922.2 546.1,922.4 547.1,918.7 548.1,916.9 549.1,916.9 550.1,915.2 551.1,913.0 552.1,913.1 553.1,909.4 554.1,909.2 555.1,907.1 556.1,909.4 557.1,907.4 558.1,910.0 559.1,907.1 560.1,906.7 561.1,904.3 562.1,903.9 563.1,904.5 564.1,906.2 565.1,903.4 566.1,901.4 567.1,905.9 568.1,906.1 569.1,903.7 570.1,905.8 571.1,907.0 572.1,907.3 573.1,904.1 574.1,906.6 575.1,906.0 576.1,908.6 577.1,908.0 578.1,906.9 579.1,909.0 580.1,910.2 581.1,908.6 582.1,909.6 583.1,911.2 584.1,912.5 585.1,913.2 586.1,913.0 587.1,914.3 588.1,916.8 589.1,918.3 590.1,918.3 591.1,920.3 592.1,922.9 593.1,922.5 594.1,923.7 595.1,924.9 596.1,927.2 597.1,928.6 598.1,930.1 599.1,931.3 600.1,933.5 601.1,935.3 602.1,936.8 603.1,939.6 604.1,939.8 605.1,943.3 606.1,944.5 607.1,946.9 608.1,949.2 609.1,949.3 610.1,950.4 611.1,951.7 612.1,954.0 613.1,955.3 614.1,955.2 615.1,956.8 616.1,958.9 617.1,959.1 618.1,958.8 619.1,960.7 620.1,962.3 621.1,964.4 622.1,965.1 623.1,968.0 624.1,968.1 625.1,971.0 626.1,970.8 627.1,973.7 628.1,974.2 629.1,976.6 630.1,978.5 631.1,979.7 632.1,980.6 633.1,980.6 634.1,981.9 635.1,981.3 636.1,986.3 637.1,987.4 638.1,988.5 639.1,987.9 640.1,992.4 641.1,990.7 642.1,993.2 643.1,992.2 644.1,994.3 645.1,997.0 646.1,998.1 647.1,997.5 648.1,999.5 649.1,1001.7 650.1,1000.4 651.1,1003.8 652.1,1003.0 653.1,1006.0 654.1,1006.5 655.1,1008.8 656.1,1008.8 657.1,1010.2 658.1,1011.4 659.1,1012.2 660.1,1013.9 661.1,1014.4 662.1,1015.9 663.1,1018.0 664.1,1018.0 665.1,1020.3 666.1,1020.8 667.1,1021.7 668.1,1020.6 669.1,1023.0 670.1,1024.9 671.1,1025.3 672.1,1026.6 673.1,1027.9 674.1,1026.2 675.1,1029.2 676.1,1030.3 677.1,1030.8 678.1,1031.0 679.1,1033.4 680.1,1034.2 681.1,1037.2 682.1,1037.7 683.1,1037.1 684.1,1037.4 685.1,1038.6 686.1,1040.3 687.1,1040.7 688.1,1044.2 689.1,1042.2 690.1,1044.2 691.1,1045.5 692.1,1046.8 693.1,1046.7 694.1,1048.5 695.1,1049.9 696.1,1051.1 697.1,1051.1 698.1,1052.2 699.1,1053.5 700.1,1056.1 701.1,1053.2 702.1,1056.0 703.1,1057.6 704.1,1054.6 705.1,1058.5 706.1,1059.0 707.1,1058.0 708.1,1059.7 709.1,1061.0 710.1,1059.8 711.1,1061.0 712.1,1060.3 713.1,1061.4 714.1,1063.0 715.1,1063.5 716.1,1066.1 717.1,1064.8 718.1,1064.5 719.1,1067.5 720.1,1068.3 721.1,1068.4 722.1,1068.5 723.1,1068.5 724.1,1069.3 725.1,1072.5 726.1,1072.2 727.1,1071.9 728.1,1072.8 729.1,1072.4 730.1,1072.1 731.1,1073.2 732.1,1074.2 733.1,1072.8 734.1,1073.6 735.1,1073.9 736.1,1076.1 737.1,1078.0 738.1,1076.4 739.1,1077.2 740.1,1077.3 741.1,1079.2 742.1,1079.0 743.1,1079.8 744.1,1080.3 745.1,1085.2 746.1,1082.5 747.1,1081.9 748.1,1082.1 749.1,1083.8 750.1,1083.6 751.1,1082.3 752.1,1078.8 753.1,1082.6 754.1,1082.6 755.1,1082.1 756.1,1081.7 757.1,1081.2 758.1,1083.0 759.1,1081.0 760.1,1083.0 761.1,1081.1 762.1,1081.4 763.1,1081.6 764.1,1081.9 765.1,1082.5 766.1,1084.7 767.1,1086.3 768.1,1083.5 769.1,1083.1 770.1,1086.3 771.1,1083.9 772.1,1084.4 773.1,1083.9 774.1,1084.3 775.1,1081.6 776.1,1083.4 777.1,1082.4 778.1,1078.5 779.1,1079.8 780.1,1078.6 781.1,1078.2 782.1,1076.6 783.1,1074.8 784.1,1073.8 785.1,1072.8 786.1,1071.0 787.1,1069.1 788.1,1068.8 789.1,1065.7 790.1,1062.5 791.1,1061.0 792.1,1058.7 793.1,1055.5 794.1,1053.4 795.1,1049.9 796.1,1046.1 797.1,1043.8 798.1,1039.9 799.1,1035.4 800.1,1030.1 801.1,1024.7 802.1,1020.1 803.1,1015.3 804.1,1010.3 805.1,1004.6 806.1,997.2 807.1,988.1 808.1,976.0 809.1,959.0 810.1,941.6 811.1,921.6 812.1,901.4 813.1,880.9 814.1,866.1 815.1,852.3 816.1,839.8 817.1,826.2 818.1,812.8 819.1,798.6 820.1,785.0 821.1,771.3 822.1,760.9 823.1,751.1 824.1,742.1 825.1,731.6 826.1,721.9 827.1,711.6 828.1,700.1 829.1,691.3 830.1,680.1 831.1,669.1 832.1,660.5 833.1,650.6 834.1,638.7 835.1,627.6 836.1,613.3 837.1,600.3 838.1,588.9 839.1,579.3 840.1,569.8 841.1,558.7 842.1,549.0 843.1,538.9 844.1,529.2 845.1,522.2 846.1,516.4 847.1,510.3 848.1,504.8 849.1,499.1 850.1,492.4 851.1,487.1 852.1,480.0 853.1,474.6 854.1,470.1 855.1,466.2 856.1,461.1 857.1,457.8 858.1,455.1 859.1,452.1 860.1,448.0 861.1,444.9 862.1,443.4 863.1,441.2 864.1,438.6 865.1,437.1 866.1,435.5 867.1,433.8 868.1,433.1 869.1,433.4 870.1,432.4 871.1,433.3 872.1,429.9 873.1,428.9 874.1,431.8 875.1,429.6 876.1,430.5 877.1,431.2 878.1,429.8 879.1,429.9 880.1,432.7 881.1,429.7 882.1,434.2 883.1,432.3 884.1,435.8 885.1,436.2 886.1,437.3 887.1,438.7 888.1,439.9 889.1,440.4 890.1,443.6 891.1,445.2 892.1,447.8 893.1,450.2 894.1,453.0 895.1,456.6 896.1,459.4 897.1,461.9 898.1,464.2 899.1,467.5 900.1,470.6 901.1,474.8 902.1,477.7 903.1,480.7 904.1,483.8 905.1,486.9 906.1,491.3 907.1,494.1 908.1,498.1 909.1,503.0 910.1,507.1 911.1,510.9 912.1,514.5 913.1,518.7 914.1,524.1 915.1,528.2 916.1,533.2 917.1,536.9 918.1,541.8 919.1,546.4 920.1,552.6 921.1,556.1 922.1,562.2 923.1,567.7 924.1,571.5 925.1,576.3 926.1,581.5 927.1,586.3 928.1,592.2 929.1,597.0 930.1,601.7 931.1,607.0 932.1,612.9 933.1,617.1 934.1,621.9 935.1,627.8 936.1,631.2 937.1,636.3 938.1,642.3 939.1,647.1 940.1,652.0 941.1,658.6 942.1,664.2 943.1,671.2 944.1,677.9 945.1,683.3 946.1,691.1 947.1,697.3 948.1,703.5 949.1,709.5 950.1,716.5 951.1,723.2 952.1,729.4 953.1,735.1 954.1,738.5 955.1,743.9 956.1,748.1 957.1,752.9 958.1,757.6 959.1,763.0 960.1,766.6 961.1,772.0 962.1,776.8 963.1,781.9 964.1,788.1 965.1,792.1 966.1,798.4 967.1,804.6 968.1,810.9 969.1,814.9 970.1,820.6 971.1,826.4 972.1,832.7 973.1,838.7 974.1,844.3 975.1,850.3 976.1,854.9 977.1,860.5 978.1,864.9 979.1,870.7 980.1,876.5 981.1,881.4 982.1,888.9 983.1,895.7 984.1,901.7 985.1,907.6 986.1,912.9 987.1,917.1 988.1,922.0 989.1,925.7 990.1,930.0 991.1,933.9 992.1,938.0 993.1,941.4 994.1,946.3 995.1,951.4 996.1,955.2 997.1,958.9 998.1,963.1 999.1,968.5 1000.1,972.8 1001.1,976.8 1002.1,982.5 1003.1,988.7 1004.1,992.1 1005.1,998.0 1006.1,1002.4 1007.1,1007.4 1008.1,1011.8 1009.1,1016.1 1010.1,1019.7 1011.1,1025.3 1012.1,1029.9 1013.1,1034.4 1014.1,1038.6 1015.1,1043.6 1016.1,1049.8 1017.1,1053.0 1018.1,1058.3 1019.1,1062.6 1020.1,1067.8 1021.1,1072.7 1022.1,1077.7 1023.1,1081.8 1024.1,1086.2 1025.1,1090.9 1026.1,1095.4 1027.1,1099.4 1028.1,1103.7 1029.1,1108.5 1030.1,1111.6 1031.1,1115.9 1032.1,1119.5 1033.1,1123.7 1034.1,1128.6 1035.1,1131.5 1036.1,1136.2 1037.1,1141.0 1038.1,1144.3 1039.1,1148.1 1040.1,1151.7 1041.1,1154.7 1042.1,1159.2 1043.1,1162.7 1044.1,1167.1 1045.1,1170.2 1046.1,1172.3 1047.1,1176.4 1048.1,1178.8 1049.1,1183.3 1050.1,1186.3 1051.1,1189.1 1052.1,1191.9 1053.1,1196.4 1054.1,1199.3 1055.1,1202.9 1056.1,1206.1 1057.1,1209.3 1058.1,1213.5 1059.1,1216.7 1060.1,1222.0 1061.1,1226.0 1062.1,1228.8 1063.1,1233.3 1064.1,1236.2 1065.1,1239.1 1066.1,1242.2 1067.1,1245.5 1068.1,1247.3 1069.1,1250.1 1070.1,1253.9 1071.1,1256.3 1072.1,1257.8 1073.1,1261.4 1074.1,1262.9 1075.1,1266.7 1076.1,1268.9 1077.1,1271.4 1078.1,1272.7 1079.1,1275.5 1080.1,1278.9 1081.1,1280.1 1082.1,1283.7 1083.1,1285.8 1084.1,1288.5 1085.1,1290.5 1086.1,1293.9 1087.1,1296.3 1088.1,1299.1 1089.1,1302.6 1090.1,1303.5 1091.1,1306.2 1092.1,1308.0 1093.1,1312.0 1094.1,1313.3 1095.1,1316.4 1096.1,1317.7 1097.1,1320.7 1098.1,1323.6 1099.1,1325.8 1100.1,1327.6 1101.1,1330.5 1102.1,1332.2 1103.1,1334.8 1104.1,1335.9 1105.1,1338.3 1106.1,1339.3 1107.1,1342.3 1108.1,1343.1 1109.1,1344.8 1110.1,1345.9 1111.1,1348.6 1112.1,1349.6 1113.1,1350.8 1114.1,1353.5 1115.1,1353.3 1116.1,1356.1 1117.1,1357.9 1118.1,1356.7 1119.1,1360.1 1120.1,1361.1 1121.1,1362.1 1122.1,1363.5 1123.1,1363.5 1124.1,1366.2 1125.1,1367.2 1126.1,1367.0 1127.1,1369.4 1128.1,1369.8 1129.1,1372.2 1130.1,1372.6 1131.1,1374.6 1132.1,1374.4 1133.1,1376.3 1134.1,1377.4 1135.1,1378.5 1136.1,1380.8 1137.1,1382.7 1138.1,1379.5 1139.1,1382.8 1140.1,1382.2 1141.1,1382.8 1142.1,1383.4 1143.1,1384.2 1144.1,1384.9 1145.1,1386.5 1146.1,1387.7 1147.1,1387.2 1148.1,1387.6 1149.1,1388.9 1150.1,1389.5 1151.1,1391.9 1152.1,1389.4 1153.1,1389.4 1154.1,1391.3 1155.1,1392.5 1156.1,1392.2 1157.1,1393.0 1158.1,1389.3 1159.1,1391.9 1160.1,1392.2 1161.1,1391.3 1162.1,1392.4 1163.1,1393.0 1164.1,1394.0 1165.1,1392.2 1166.1,1391.1 1167.1,1394.1 1168.1,1396.3 1169.1,1393.7 1170.1,1393.6 1171.1,1391.9 1172.1,1393.5 1173.1,1395.2 1174.1,1390.1 1175.1,1394.0 1176.1,1389.7 1177.1,1394.2 1178.1,1393.1 1179.1,1391.3 1180.1,1391.9 1181.1,1393.5 1182.1,1389.5 1183.1,1392.3 1184.1,1391.2 1185.1,1390.1 1186.1,1391.6 1187.1,1387.2 1188.1,1388.8 1189.1,1387.0 1190.1,1388.0 1191.1,1388.2 1192.1,1385.1 1193.1,1386.7 1194.1,1386.0 1195.1,1384.3 1196.1,1384.2 1197.1,1384.7 1198.1,1383.1 1199.1,1383.8 1200.1,1380.2 1201.1,1379.3 1202.1,1381.3 1203.1,1377.8 1204.1,1380.0 1205.1,1377.9 1206.1,1378.0 1207.1,1376.2 1208.1,1377.1 1209.1,1376.8 1210.1,1376.1 1211.1,1374.6 1212.1,1371.9 1213.1,1374.1 1214.1,1372.6 1215.1,1373.6 1216.1,1369.7 1217.1,1371.6 1218.1,1370.0 1219.1,1370.1 1220.1,1370.6 1221.1,1370.0 1222.1,1370.1 1223.1,1368.4 1224.1,1367.7 1225.1,1366.7 1226.1,1364.4 1227.1,1365.8 1228.1,1363.0 1229.1,1362.5 1230.1,1362.5 1231.1,1360.5 1232.1,1359.9 1233.1,1357.0 1234.1,1357.8 1235.1,1356.7 1236.1,1356.3 1237.1,1356.6 1238.1,1354.9 1239.1,1354.2 1240.1,1353.6 1241.1,1353.7 1242.1,1352.9 1243.1,1351.5 1244.1,1350.0 1245.1,1350.5 1246.1,1348.5 1247.1,1348.0 1248.1,1347.9 1249.1,1346.4 1250.1,1345.1 1251.1,1344.4 1252.1,1344.8 1253.1,1344.7 1254.1,1344.4 1255.1,1342.2 1256.1,1342.3 1257.1,1341.1 1258.1,1339.6 1259.1,1341.1 1260.1,1337.0 1261.1,1335.7 1262.1,1335.5 1263.1,1335.9 1264.1,1333.1 1265.1,1334.1 1266.1,1331.0 1267.1,1331.0 1268.1,1330.7 1269.1,1330.1 1270.1,1329.9 1271.1,1329.3 1272.1,1328.8 1273.1,1327.4 1274.1,1329.0 1275.1,1328.1 1276.1,1328.2 1277.1,1329.4 1278.1,1328.3 1279.1,1327.9 1280.1,1329.4 1281.1,1326.8 1282.1,1325.2 1283.1,1326.5 1284.1,1325.5 1285.1,1326.8 1286.1,1326.8 1287.1,1326.9 1288.1,1327.2 1289.1,1327.5 1290.1,1327.0 1291.1,1326.4 1292.1,1325.5 1293.1,1325.0 1294.1,1325.3 1295.1,1324.7 1296.1,1323.3 1297.1,1323.9 1298.1,1325.2 1299.1,1324.1 1300.1,1322.8 1301.1,1324.0 1302.1,1324.4 1303.1,1321.9 1304.1,1325.4 1305.1,1324.6 1306.1,1322.7 1307.1,1324.3 1308.1,1322.9 1309.1,1323.3 1310.1,1321.1 1311.1,1321.5 1312.1,1321.7 1313.1,1321.7 1314.1,1321.0 1315.1,1319.4 1316.1,1319.8 1317.1,1321.7 1318.1,1320.5 1319.1,1323.0 1320.1,1322.4 1321.1,1320.1 1322.1,1320.3 1323.1,1317.4 1324.1,1320.3 1325.1,1320.5 1326.1,1317.7 1327.1,1317.4 1328.1,1317.4 1329.1,1318.9 1330.1,1319.2 1331.1,1316.4 1332.1,1317.2 1333.1,1318.5 1334.1,1318.0 1335.1,1317.3 1336.1,1318.5 1337.1,1316.5 1338.1,1315.7 1339.1,1318.6 1340.1,1318.8 1341.1,1319.5 1342.1,1317.3 1343.1,1316.6 1344.1,1317.9 1345.1,1317.8 1346.1,1318.1 1347.1,1318.0 1348.1,1320.0 1349.1,1318.7 1350.1,1320.2 1351.1,1317.6 1352.1,1317.4 1353.1,1320.1 1354.1,1317.4 1355.1,1317.7 1356.1,1317.8 1357.1,1317.1 1358.1,1320.3 1359.1,1322.0 1360.1,1320.7 1361.1,1321.3 1362.1,1320.0 1363.1,1319.4 1364.1,1321.6 1365.1,1319.7 1366.1,1319.5 1367.1,1320.6 1368.1,1323.3 1369.1,1322.7 1370.1,1322.1 1371.1,1321.2 1372.1,1321.5 1373.1,1323.4 1374.1,1323.0 1375.1,1322.1 1376.1,1324.7 1377.1,1322.2 1378.1,1320.8 1379.1,1321.9 1380.1,1322.7 1381.1,1321.5 1382.1,1320.8 1383.1,1318.1 1384.1,1318.6 1385.1,1317.5 1386.1,1316.4 1387.1,1314.8 1388.1,1317.5 1389.1,1316.0 1390.1,1315.1 1391.1,1316.9 1392.1,1319.5 1393.1,1314.2 1394.1,1316.7 1395.1,1319.0 1396.1,1319.2 1397.1,1315.6 1398.1,1316.5 1399.1,1314.8 1400.1,1317.6 1401.1,1316.0 1402.1,1317.0 1403.1,1320.5 1404.1,1317.9 1405.1,1317.7 1406.1,1320.4 1407.1,1321.2 1408.1,1321.8 1409.1,1323.5 1410.1,1321.5 1411.1,1322.6 1412.1,1323.9 1413.1,1322.7 1414.1,1325.3 1415.1,1324.8 1416.1,1323.7 1417.1,1323.5 1418.1,1323.9 1419.1,1324.4 1420.1,1321.3 1421.1,1322.3 1422.1,1323.0 1423.1,1323.0 1424.1,1323.4 1425.1,1323.5 1426.1,1324.5 1427.1,1324.0 1428.1,1325.0 1429.1,1325.1 1430.1,1324.7 1431.1,1324.4 1432.1,1324.1 1433.1,1326.3 1434.1,1324.8 1435.1,1325.9 1436.1,1326.9 1437.1,1326.3 1438.1,1324.1 1439.1,1325.4 1440.1,1329.3 1441.1,1324.7 1442.1,1328.8 1443.1,1326.0 1444.1,1327.8 1445.1,1329.4 1446.1,1327.0 1447.1,1329.9 1448.1,1326.2 1449.1,1329.2 1450.1,1329.0 1451.1,1330.8 1452.1,1331.7 1453.1,1332.8 1454.1,1333.4 1455.1,1332.4 1456.1,1332.6 1457.1,1334.8 1458.1,1334.5 1459.1,1333.7 1460.1,1334.3 1461.1,1336.9 1462.1,1337.6 1463.1,1338.9 1464.1,1339.6 1465.1,1338.2 1466.1,1340.9 1467.1,1339.7 1468.1,1342.1 1469.1,1342.0 1470.1,1344.4 1471.1,1343.3 1472.1,1342.6 1473.1,1343.3 1474.1,1344.1 1475.1,1345.1 1476.1,1345.8 1477.1,1344.1 1478.1,1344.3 1479.1,1346.9 1480.1,1346.3 1481.1,1348.1 1482.1,1347.7 1483.1,1349.6 1484.1,1348.7 1485.1,1346.7 1486.1,1348.1 1487.1,1349.8 1488.1,1348.1 1489.1,1349.9 1490.1,1351.1 1491.1,1352.1 1492.1,1352.2 1493.1,1349.6 1494.1,1353.3 1495.1,1351.1 1496.1,1352.8 1497.1,1352.0 1498.1,1354.7 1499.1,1353.8 1500.1,1354.6 1501.1,1355.3 1502.1,1355.1 1503.1,1354.9 1504.1,1357.9 1505.1,1357.3 1506.1,1358.0 1507.1,1355.4 1508.1,1355.6 1509.1,1360.4 1510.1,1359.8 1511.1,1357.4 1512.1,1360.5 1513.1,1360.7 1514.1,1360.1 1515.1,1361.4 1516.1,1364.5 1517.1,1362.7 1518.1,1364.8 1519.1,1364.4 1520.1,1364.7 1521.1,1369.4 1522.1,1368.6 1523.1,1368.3 1524.1,1369.2 1525.1,1370.1 1526.1,1370.0 1527.1,1372.3 1528.1,1373.2 1529.1,1372.7 1530.1,1373.8 1531.1,1373.1 1532.1,1375.5 1533.1,1373.6 1534.1,1376.3 1535.1,1378.7 1536.1,1377.2 1537.1,1381.3 1538.1,1377.2 1539.1,1378.7 1540.1,1379.4 1541.1,1381.0 1542.1,1381.7 1543.1,1381.0 1544.1,1379.6 1545.1,1383.4 1546.1,1383.2 1547.1,1384.1 1548.1,1382.7 1549.1,1385.6 1550.1,1386.1 1551.1,1388.3 1552.1,1390.2 1553.1,1389.4 1554.1,1391.4 1555.1,1392.8 1556.1,1393.5 1557.1,1395.7 1558.1,1396.9 1559.1,1397.0 1560.1,1398.4 1561.1,1400.6 1562.1,1400.2 1563.1,1403.2 1564.1,1404.9 1565.1,1406.0 1566.1,1405.4 1567.1,1408.9 1568.1,1410.0 1569.1,1407.5 1570.1,1411.1 1571.1,1411.3 1572.1,1411.4 1573.1,1409.9 1574.1,1412.5 1575.1,1410.4 1576.1,1412.3 1577.1,1413.7 1578.1,1413.8 1579.1,1413.3 1580.1,1414.6 1581.1,1414.5 1582.1,1415.4 1583.1,1414.6 1584.1,1414.6 1585.1,1415.8 1586.1,1415.5 1587.1,1418.7 1588.1,1420.8 1589.1,1419.3 1590.1,1420.4 1591.1,1419.0 1592.1,1420.8 1593.1,1421.0 1594.1,1423.7 1595.1,1424.5 1596.1,1424.7 1597.1,1427.9 1598.1,1427.8 1599.1,1429.5 1600.1,1430.4 1601.1,1431.7 1602.1,1432.3 1603.1,1431.5 1604.1,1431.7 1605.1,1431.8 1606.1,1431.8 1607.1,1435.5 1608.1,1433.2 1609.1,1436.0 1610.1,1433.6 1611.1,1434.2 1612.1,1436.6 1613.1,1435.6 1614.1,1435.1 1615.1,1438.5 1616.1,1435.1 1617.1,1436.0 1618.1,1438.2 1619.1,1439.6 1620.1,1437.9 1621.1,1437.2 1622.1,1441.4 1623.1,1438.9 1624.1,1438.4 1625.1,1439.7 1626.1,1441.4 1627.1,1436.7 1628.1,1439.2 1629.1,1441.8 1630.1,1441.9 1631.1,1441.6 1632.1,1441.7 1633.1,1443.0 1634.1,1443.9 1635.1,1442.3 1636.1,1442.9 1637.1,1444.8 1638.1,1443.9 1639.1,1443.2 1640.1,1445.0 1641.1,1444.3 1642.1,1446.8 1643.1,1447.6 1644.1,1446.1 1645.1,1447.0 1646.1,1447.9 1647.1,1449.4 1648.1,1449.2 1649.1,1448.4 1650.1,1448.7 1651.1,1450.2 1652.1,1449.4 1653.1,1449.3 1654.1,1447.3 1655.1,1449.1 1656.1,1449.5 1657.1,1449.1 1658.1,1447.7 1659.1,1446.8 1660.1,1450.1 1661.1,1450.2 1662.1,1449.6 1663.1,1448.3 1664.1,1449.0 1665.1,1449.7 1666.1,1450.9 1667.1,1450.2 1668.1,1449.1 1669.1,1449.7 1670.1,1448.9 1671.1,1453.0 1672.1,1449.9 1673.1,1452.9 1674.1,1451.6 1675.1,1453.8 1676.1,1450.2 1677.1,1452.8 1678.1,1450.9 1679.1,1451.1 1680.1,1451.5 1681.1,1451.1 1682.1,1451.9 1683.1,1452.9 1684.1,1455.5 1685.1,1453.4 1686.1,1452.7 1687.1,1455.8 1688.1,1457.3 1689.1,1453.6 1690.1,1457.6 1691.1,1456.0 1692.1,1455.9 1693.1,1459.4 1694.1,1460.7 1695.1,1461.3 1696.1,1458.8 1697.1,1458.0 1698.1,1458.5 1699.1,1458.7 1700.1,1458.8 1701.1,1459.2 1702.1,1457.8 1703.1,1458.0 1704.1,1457.6 1705.1,1456.7 1706.1,1458.7 1707.1,1460.5 1708.1,1460.3 1709.1,1457.7 1710.1,1462.5 1711.1,1460.4 1712.1,1464.4 1713.1,1464.7 1714.1,1463.6 1715.1,1465.5 1716.1,1462.8 1717.1,1464.0 1718.1,1463.9 1719.1,1465.6 1720.1,1465.6 1721.1,1466.1 1722.1,1466.2 1723.1,1468.2 1724.1,1466.3 1725.1,1465.7 1726.1,1466.4 1727.1,1466.7 1728.1,1466.5 1729.1,1464.4 1730.1,1464.9 1731.1,1465.0 1732.1,1463.9 1733.1,1462.8 1734.1,1464.0 1735.1,1461.1 1736.1,1464.2 1737.1,1462.8 1738.1,1464.1 1739.1,1464.3 1740.1,1467.1 1741.1,1467.2 1742.1,1467.6 1743.1,1464.7 1744.1,1463.9 1745.1,1465.7 1746.1,1463.1 1747.1,1464.4 1748.1,1463.5 1749.1,1464.5 1750.1,1465.6 1751.1,1463.1 1752.1,1465.1 1753.1,1465.2 1754.1,1465.6 1755.1,1466.4 1756.1,1465.8 1757.1,1466.7 1758.1,1467.0 1759.1,1466.0 1760.1,1470.3 1761.1,1469.7 1762.1,1470.0 1763.1,1468.5 1764.1,1467.1 1765.1,1469.9 1766.1,1468.4 1767.1,1472.2 1768.1,1472.1 1769.1,1469.1 1770.1,1471.7 1771.1,1470.9 1772.1,1469.8 1773.1,1467.8 1774.1,1470.9 1775.1,1471.3 1776.1,1471.5 1777.1,1469.6 1778.1,1470.5 1779.1,1470.8 1780.1,1471.0 1781.1,1470.3 1782.1,1472.9 1783.1,1472.5 1784.1,1471.4 1785.1,1472.8 1786.1,1473.7 1787.1,1473.0 1788.1,1473.1 1789.1,1473.8 1790.1,1471.7 1791.1,1473.7 1792.1,1471.8 1793.1,1473.0 1794.1,1474.5 1795.1,1472.2 1796.1,1474.4 1797.1,1473.7 1798.1,1474.7 1799.1,1470.7 1800.1,1467.4 1801.1,1471.5 1802.1,1475.6 1803.1,1473.1 1804.1,1472.2 1805.1,1472.4 1806.1,1472.8 1807.1,1471.8 1808.1,1474.9 1809.1,1471.8 1810.1,1469.6 1811.1,1469.6 1812.1,1471.1 1813.1,1471.3 1814.1,1472.4 1815.1,1472.6 1816.1,1472.8 1817.1,1470.0 1818.1,1472.1 1819.1,1470.7 1820.1,1471.9 1821.1,1470.3 1822.1,1473.7 1823.1,1473.9 1824.1,1472.6 1825.1,1470.9 1826.1,1473.8 1827.1,1473.0 1828.1,1470.9 1829.1,1473.8 1830.1,1474.4 1831.1,1474.1 1832.1,1471.3 1833.1,1474.8 1834.1,1475.4 1835.1,1473.6 1836.1,1476.1 1837.1,1475.6 1838.1,1476.5 1839.1,1473.2 1840.1,1475.4 1841.1,1476.7 1842.1,1474.4 1843.1,1476.8 1844.1,1479.2 1845.1,1475.2 1846.1,1479.4 1847.1,1479.0 1848.1,1476.9 1849.1,1477.3 1850.1,1477.5 1851.1,1479.4 1852.1,1476.2 1853.1,1480.4 1854.1,1477.8 1855.1,1479.6 1856.1,1479.7 1857.1,1481.6 1858.1,1479.4 1859.1,1479.7 1860.1,1482.6 1861.1,1483.4 1862.1,1481.2 1863.1,1480.9 1864.1,1481.8 1865.1,1481.7 1866.1,1481.7 1867.1,1480.3 1868.1,1478.7 1869.1,1482.2 1870.1,1481.8 1871.1,1483.5 1872.1,1483.5 1873.1,1484.2 1874.1,1481.2 1875.1,1482.7 1876.1,1479.8 1877.1,1481.5 1878.1,1481.5 1879.1,1479.5 1880.1,1479.8 1881.1,1482.6 1882.1,1478.0 1883.1,1479.9 1884.1,1477.7 1885.1,1478.8 1886.1,1473.9 1887.1,1475.2 1888.1,1476.2 1889.1,1478.5 1890.1,1475.9 1891.1,1474.2 1892.1,1475.3 1893.1,1477.0 1894.1,1473.8 1895.1,1476.1 1896.1,1475.9 1897.1,1475.7 1898.1,1476.9 1899.1,1475.4 1900.1,1477.4 1901.1,1477.5 1902.1,1479.1 1903.1,1477.2 1904.1,1476.7 1905.1,1475.2 1906.1,1475.9 1907.1,1474.7 1908.1,1478.2 1909.1,1473.0 1910.1,1476.5 1911.1,1476.4 1912.1,1476.4 1913.1,1474.7 1914.1,1478.1 1915.1,1474.4 1916.1,1472.5 1917.1,1473.6 1918.1,1473.4 1919.1,1476.1 1920.1,1474.3 1921.1,1473.4 1922.1,1474.0 1923.1,1475.6 1924.1,1476.3 1925.1,1477.7 1926.1,1479.9 1927.1,1478.4 1928.1,1480.1 1929.1,1481.8 1930.1,1480.0 1931.1,1482.9 1932.1,1484.0 1933.1,1482.2 1934.1,1483.1 1935.1,1481.4 1936.1,1481.8 1937.1,1482.1 1938.1,1481.5 1939.1,1483.2 1940.1,1480.7 1941.1,1482.6 1942.1,1480.6 1943.1,1483.4 1944.1,1483.1 1945.1,1481.7 1946.1,1479.3 1947.1,1480.1 1948.1,1477.7 1949.1,1482.7 1950.1,1481.1 1951.1,1480.9 1952.1,1482.2 1953.1,1480.4 1954.1,1481.9 1955.1,1483.0 1956.1,1484.3 1957.1,1486.3 1958.1,1482.1 1959.1,1484.7 1960.1,1482.6 1961.1,1482.0 1962.1,1483.9 1963.1,1483.3 1964.1,1481.2 1965.1,1483.2 1966.1,1486.0 1967.1,1482.1 1968.1,1482.0 1969.1,1484.7 1970.1,1483.2 1971.1,1481.7 1972.1,1483.3 1973.1,1481.7 1974.1,1481.3 1975.1,1482.7 1976.1,1480.8 1977.1,1482.9 1978.1,1483.8 1979.1,1480.5 1980.1,1480.1 1981.1,1479.6 1982.1,1480.1 1983.1,1478.7 1984.1,1479.4 1985.1,1479.9 1986.1,1477.0 1987.1,1478.5 1988.1,1479.6 1989.1,1479.0 1990.1,1476.5 1991.1,1479.7 1992.1,1476.7 1993.1,1479.7 1994.1,1476.3 1995.1,1479.6 1996.1,1478.6 1997.1,1478.7 1998.1,1478.6 1999.1,1477.7 2000.1,1479.6 2001.1,1478.9 2002.1,1479.5 2003.1,1477.0 2004.1,1478.7 2005.1,1478.7 2006.1,1475.8 2007.1,1478.4 2008.1,1478.5 2009.1,1474.6 2010.1,1474.8 2011.1,1479.4 2012.1,1476.3 2013.1,1475.5 2014.1,1474.3 2015.1,1476.4 2016.1,1474.8 2017.1,1476.0 2018.1,1475.7 2019.1,1476.1 2020.1,1476.5 2021.1,1475.2 2022.1,1476.4 2023.1,1476.8 2024.1,1475.9 2025.1,1475.5 2026.1,1477.1 2027.1,1479.2 2028.1,1477.2" stroke="#fccf4d" stroke-width="10.2"/>
<path d="M283.1,1492.6 284.1,1491.2 285.1,1492.8 286.1,1492.0 287.1,1489.6 288.1,1493.3 289.1,1491.7 290.1,1492.7 291.1,1494.4 292.1,1492.0 293.1,1490.0 294.1,1490.5 295.1,1492.9 296.1,1489.2 297.1,1491.6 298.1,1491.7 299.1,1489.4 300.1,1491.2 301.1,1491.7 302.1,1489.7 303.1,1489.9 304.1,1491.3 305.1,1488.5 306.1,1488.9 307.1,1491.3 308.1,1489.9 309.1,1487.6 310.1,1489.4 311.1,1491.8 312.1,1486.7 313.1,1489.7 314.1,1489.3 315.1,1487.7 316.1,1488.5 317.1,1486.4 318.1,1489.2 319.1,1489.1 320.1,1485.3 321.1,1485.9 322.1,1486.2 323.1,1484.9 324.1,1486.0 325.1,1483.8 326.1,1485.8 327.1,1484.4 328.1,1484.5 329.1,1485.0 330.1,1485.5 331.1,1482.6 332.1,1484.8 333.1,1484.8 334.1,1483.2 335.1,1485.3 336.1,1481.9 337.1,1482.0 338.1,1483.2 339.1,1481.5 340.1,1484.3 341.1,1482.5 342.1,1484.5 343.1,1480.4 344.1,1480.4 345.1,1483.5 346.1,1480.0 347.1,1482.9 348.1,1480.1 349.1,1481.5 350.1,1482.6 351.1,1480.7 352.1,1479.0 353.1,1479.8 354.1,1482.0 355.1,1480.5 356.1,1481.0 357.1,1480.0 358.1,1480.1 359.1,1479.2 360.1,1477.8 361.1,1479.8 362.1,1479.1 363.1,1475.8 364.1,1478.4 365.1,1479.6 366.1,1480.8 367.1,1475.9 368.1,1477.9 369.1,1478.5 370.1,1478.7 371.1,1476.5 372.1,1478.2 373.1,1476.9 374.1,1477.5 375.1,1476.9 376.1,1478.2 377.1,1477.4 378.1,1478.5 379.1,1478.1 380.1,1479.7 381.1,1481.0 382.1,1478.7 383.1,1478.0 384.1,1478.9 385.1,1478.6 386.1,1477.2 387.1,1479.7 388.1,1479.1 389.1,1481.2 390.1,1479.8 391.1,1481.4 392.1,1481.3 393.1,1479.5 394.1,1479.8 395.1,1479.6 396.1,1479.7 397.1,1481.6 398.1,1479.7 399.1,1479.9 400.1,1479.3 401.1,1482.5 402.1,1479.8 403.1,1480.0 404.1,1478.8 405.1,1480.2 406.1,1478.5 407.1,1478.5 408.1,1476.4 409.1,1476.6 410.1,1478.6 411.1,1478.9 412.1,1475.4 413.1,1477.1 414.1,1476.6 415.1,1479.1 416.1,1473.9 417.1,1473.5 418.1,1472.3 419.1,1473.1 420.1,1472.2 421.1,1469.9 422.1,1470.0 423.1,1469.0 424.1,1465.6 425.1,1464.7 426.1,1462.5 427.1,1460.3 428.1,1458.4 429.1,1456.5 430.1,1454.0 431.1,1453.0 432.1,1451.9 433.1,1449.1 434.1,1447.5 435.1,1445.1 436.1,1443.7 437.1,1441.0 438.1,1439.2 439.1,1435.9 440.1,1432.6 441.1,1430.9 442.1,1427.5 443.1,1425.2 444.1,1421.7 445.1,1416.7 446.1,1413.4 447.1,1410.7 448.1,1406.4 449.1,1401.6 450.1,1398.2 451.1,1394.9 452.1,1390.4 453.1,1385.5 454.1,1382.0 455.1,1378.3 456.1,1373.7 457.1,1370.6 458.1,1365.2 459.1,1362.4 460.1,1357.9 461.1,1353.0 462.1,1348.3 463.1,1343.3 464.1,1337.7 465.1,1333.2 466.1,1327.6 467.1,1321.5 468.1,1315.3 469.1,1309.2 470.1,1302.8 471.1,1297.2 472.1,1291.2 473.1,1286.6 474.1,1280.4 475.1,1275.7 476.1,1269.3 477.1,1264.3 478.1,1258.0 479.1,1251.3 480.1,1244.2 481.1,1236.6 482.1,1229.9 483.1,1223.4 484.1,1218.2 485.1,1213.4 486.1,1206.8 487.1,1202.9 488.1,1195.7 489.1,1188.7 490.1,1181.2 491.1,1172.3 492.1,1162.9 493.1,1155.1 494.1,1149.5 495.1,1141.6 496.1,1136.2 497.1,1129.3 498.1,1122.4 499.1,1115.8 500.1,1108.4 501.1,1101.6 502.1,1095.8 503.1,1089.2 504.1,1083.5 505.1,1078.8 506.1,1073.7 507.1,1068.6 508.1,1064.3 509.1,1060.1 510.1,1057.2 511.1,1053.9 512.1,1050.2 513.1,1049.6 514.1,1047.4 515.1,1045.8 516.1,1042.4 517.1,1042.2 518.1,1039.4 519.1,1037.4 520.1,1036.7 521.1,1036.3 522.1,1034.2 523.1,1033.4 524.1,1031.0 525.1,1031.0 526.1,1030.3 527.1,1027.4 528.1,1027.7 529.1,1025.1 530.1,1026.1 531.1,1023.5 532.1,1025.2 533.1,1024.2 534.1,1022.3 535.1,1023.9 536.1,1021.8 537.1,1023.1 538.1,1021.7 539.1,1023.8 540.1,1022.3 541.1,1025.2 542.1,1023.9 543.1,1024.1 544.1,1021.6 545.1,1020.7 546.1,1022.7 547.1,1026.3 548.1,1023.3 549.1,1026.5 550.1,1027.3 551.1,1026.2 552.1,1027.6 553.1,1030.0 554.1,1029.4 555.1,1030.2 556.1,1031.1 557.1,1032.7 558.1,1033.7 559.1,1036.0 560.1,1036.1 561.1,1038.0 562.1,1037.6 563.1,1041.2 564.1,1039.1 565.1,1039.7 566.1,1039.5 567.1,1039.0 568.1,1040.5 569.1,1042.3 570.1,1041.5 571.1,1044.2 572.1,1042.1 573.1,1042.8 574.1,1045.7 575.1,1046.6 576.1,1045.7 577.1,1048.9 578.1,1050.0 579.1,1049.8 580.1,1049.0 581.1,1052.4 582.1,1051.9 583.1,1052.9 584.1,1054.6 585.1,1054.5 586.1,1057.7 587.1,1056.7 588.1,1059.3 589.1,1060.0 590.1,1061.9 591.1,1061.6 592.1,1062.8 593.1,1062.3 594.1,1063.3 595.1,1063.7 596.1,1065.9 597.1,1065.2 598.1,1068.2 599.1,1067.3 600.1,1067.0 601.1,1068.3 602.1,1071.0 603.1,1070.0 604.1,1071.9 605.1,1070.5 606.1,1073.4 607.1,1074.5 608.1,1075.1 609.1,1076.3 610.1,1075.6 611.1,1076.0 612.1,1077.4 613.1,1080.5 614.1,1081.1 615.1,1082.5 616.1,1082.2 617.1,1084.5 618.1,1083.0 619.1,1085.9 620.1,1085.2 621.1,1086.7 622.1,1088.6 623.1,1089.7 624.1,1089.3 625.1,1089.8 626.1,1092.4 627.1,1092.8 628.1,1091.5 629.1,1093.2 630.1,1093.2 631.1,1095.1 632.1,1095.1 633.1,1095.7 634.1,1095.8 635.1,1095.7 636.1,1098.2 637.1,1098.0 638.1,1095.4 639.1,1098.3 640.1,1099.7 641.1,1099.1 642.1,1099.5 643.1,1100.5 644.1,1102.2 645.1,1101.3 646.1,1103.5 647.1,1105.4 648.1,1105.6 649.1,1106.3 650.1,1105.5 651.1,1107.8 652.1,1106.9 653.1,1108.4 654.1,1106.1 655.1,1109.6 656.1,1107.4 657.1,1108.5 658.1,1110.1 659.1,1108.8 660.1,1108.3 661.1,1108.9 662.1,1110.7 663.1,1110.7 664.1,1110.0 665.1,1108.1 666.1,1108.2 667.1,1109.6 668.1,1109.6 669.1,1107.4 670.1,1107.3 671.1,1109.2 672.1,1109.8 673.1,1108.5 674.1,1106.9 675.1,1111.1 676.1,1109.2 677.1,1110.1 678.1,1106.6 679.1,1108.9 680.1,1109.7 681.1,1110.4 682.1,1108.6 683.1,1107.5 684.1,1107.1 685.1,1108.7 686.1,1109.3 687.1,1109.0 688.1,1106.0 689.1,1107.2 690.1,1107.9 691.1,1109.3 692.1,1108.6 693.1,1108.1 694.1,1105.3 695.1,1109.1 696.1,1107.3 697.1,1107.7 698.1,1106.3 699.1,1106.8 700.1,1106.5 701.1,1106.3 702.1,1105.4 703.1,1107.4 704.1,1107.6 705.1,1105.4 706.1,1104.7 707.1,1104.5 708.1,1104.9 709.1,1106.5 710.1,1104.0 711.1,1105.4 712.1,1101.2 713.1,1100.5 714.1,1099.8 715.1,1098.8 716.1,1098.9 717.1,1099.4 718.1,1096.1 719.1,1096.1 720.1,1096.0 721.1,1096.0 722.1,1092.9 723.1,1092.6 724.1,1092.0 725.1,1089.8 726.1,1089.4 727.1,1087.7 728.1,1086.4 729.1,1085.9 730.1,1087.0 731.1,1086.5 732.1,1084.6 733.1,1082.4 734.1,1083.8 735.1,1081.6 736.1,1081.6 737.1,1079.1 738.1,1076.7 739.1,1075.8 740.1,1073.8 741.1,1073.6 742.1,1069.2 743.1,1068.5 744.1,1066.9 745.1,1063.9 746.1,1063.4 747.1,1061.5 748.1,1059.5 749.1,1057.3 750.1,1054.6 751.1,1053.3 752.1,1050.5 753.1,1049.0 754.1,1047.5 755.1,1045.8 756.1,1044.6 757.1,1042.3 758.1,1041.2 759.1,1039.4 760.1,1038.4 761.1,1037.1 762.1,1034.8 763.1,1035.0 764.1,1033.8 765.1,1031.3 766.1,1029.5 767.1,1027.5 768.1,1026.3 769.1,1024.8 770.1,1023.9 771.1,1021.8 772.1,1020.9 773.1,1019.3 774.1,1017.0 775.1,1014.9 776.1,1013.4 777.1,1011.9 778.1,1010.8 779.1,1009.6 780.1,1006.1 781.1,1004.8 782.1,1002.0 783.1,1000.3 784.1,998.1 785.1,994.5 786.1,990.9 787.1,987.3 788.1,983.7 789.1,978.6 790.1,973.5 791.1,968.3 792.1,962.3 793.1,953.3 794.1,944.7 795.1,933.3 796.1,922.3 797.1,912.9 798.1,903.8 799.1,896.1 800.1,889.6 801.1,883.5 802.1,877.3 803.1,872.2 804.1,867.4 805.1,864.5 806.1,858.5 807.1,854.3 808.1,851.7 809.1,847.0 810.1,844.7 811.1,840.6 812.1,838.8 813.1,836.4 814.1,832.9 815.1,830.9 816.1,828.2 817.1,827.5 818.1,825.0 819.1,822.9 820.1,822.6 821.1,821.2 822.1,819.6 823.1,818.2 824.1,818.6 825.1,816.1 826.1,815.1 827.1,815.3 828.1,815.9 829.1,814.3 830.1,813.6 831.1,812.8 832.1,812.9 833.1,812.9 834.1,816.6 835.1,811.4 836.1,813.6 837.1,814.7 838.1,814.1 839.1,814.5 840.1,817.2 841.1,818.8 842.1,819.1 843.1,818.8 844.1,819.3 845.1,821.3 846.1,820.3 847.1,822.2 848.1,825.3 849.1,825.7 850.1,826.8 851.1,827.9 852.1,829.3 853.1,830.5 854.1,833.1 855.1,834.8 856.1,836.5 857.1,836.2 858.1,840.5 859.1,842.0 860.1,844.3 861.1,844.8 862.1,845.8 863.1,848.5 864.1,850.9 865.1,854.9 866.1,855.8 867.1,858.5 868.1,862.0 869.1,864.7 870.1,867.5 871.1,869.6 872.1,873.7 873.1,875.7 874.1,877.9 875.1,881.5 876.1,883.4 877.1,886.5 878.1,889.8 879.1,892.6 880.1,896.0 881.1,898.9 882.1,902.1 883.1,905.0 884.1,909.2 885.1,911.2 886.1,914.6 887.1,917.6 888.1,921.0 889.1,923.8 890.1,928.9 891.1,930.8 892.1,934.6 893.1,937.0 894.1,939.5 895.1,942.8 896.1,945.5 897.1,948.2 898.1,951.9 899.1,955.8 900.1,958.1 901.1,961.7 902.1,965.0 903.1,966.4 904.1,971.5 905.1,972.8 906.1,977.5 907.1,979.7 908.1,982.9 909.1,986.8 910.1,989.2 911.1,990.7 912.1,993.6 913.1,997.0 914.1,1001.1 915.1,1003.7 916.1,1007.0 917.1,1009.7 918.1,1013.1 919.1,1014.9 920.1,1017.4 921.1,1021.0 922.1,1024.9 923.1,1027.1 924.1,1029.7 925.1,1033.9 926.1,1037.7 927.1,1040.6 928.1,1043.1 929.1,1045.8 930.1,1047.4 931.1,1050.9 932.1,1054.2 933.1,1054.8 934.1,1058.0 935.1,1058.1 936.1,1060.5 937.1,1062.3 938.1,1064.5 939.1,1065.3 940.1,1069.2 941.1,1070.2 942.1,1070.9 943.1,1074.7 944.1,1076.3 945.1,1077.4 946.1,1080.2 947.1,1082.8 948.1,1084.9 949.1,1087.0 950.1,1088.8 951.1,1091.8 952.1,1094.9 953.1,1098.0 954.1,1099.7 955.1,1102.3 956.1,1104.9 957.1,1106.8 958.1,1108.4 959.1,1111.7 960.1,1114.4 961.1,1117.1 962.1,1119.5 963.1,1121.5 964.1,1124.0 965.1,1126.5 966.1,1128.5 967.1,1130.9 968.1,1132.7 969.1,1135.9 970.1,1138.5 971.1,1140.4 972.1,1143.0 973.1,1145.6 974.1,1147.4 975.1,1150.1 976.1,1152.4 977.1,1155.6 978.1,1157.1 979.1,1160.2 980.1,1161.3 981.1,1165.9 982.1,1167.4 983.1,1168.8 984.1,1171.5 985.1,1174.8 986.1,1175.9 987.1,1177.1 988.1,1180.2 989.1,1182.1 990.1,1184.9 991.1,1186.9 992.1,1188.0 993.1,1191.3 994.1,1194.0 995.1,1196.5 996.1,1198.0 997.1,1201.2 998.1,1203.1 999.1,1205.0 1000.1,1207.7 1001.1,1207.5 1002.1,1212.0 1003.1,1214.4 1004.1,1215.6 1005.1,1218.4 1006.1,1219.6 1007.1,1222.0 1008.1,1224.1 1009.1,1225.6 1010.1,1228.2 1011.1,1229.2 1012.1,1232.3 1013.1,1235.4 1014.1,1237.4 1015.1,1238.0 1016.1,1240.9 1017.1,1241.7 1018.1,1242.2 1019.1,1244.3 1020.1,1246.3 1021.1,1247.9 1022.1,1249.9 1023.1,1250.3 1024.1,1252.0 1025.1,1254.5 1026.1,1255.1 1027.1,1256.5 1028.1,1257.3 1029.1,1259.0 1030.1,1260.1 1031.1,1259.7 1032.1,1262.4 1033.1,1261.7 1034.1,1263.5 1035.1,1263.9 1036.1,1265.8 1037.1,1266.5 1038.1,1267.8 1039.1,1268.7 1040.1,1269.7 1041.1,1271.2 1042.1,1272.4 1043.1,1273.1 1044.1,1273.9 1045.1,1276.9 1046.1,1278.9 1047.1,1278.5 1048.1,1281.0 1049.1,1281.5 1050.1,1283.5 1051.1,1285.6 1052.1,1286.8 1053.1,1287.9 1054.1,1288.1 1055.1,1290.9 1056.1,1292.4 1057.1,1294.7 1058.1,1294.0 1059.1,1295.5 1060.1,1296.5 1061.1,1298.4 1062.1,1296.1 1063.1,1299.0 1064.1,1298.3 1065.1,1298.0 1066.1,1297.6 1067.1,1298.5 1068.1,1301.2 1069.1,1300.0 1070.1,1300.1 1071.1,1301.3 1072.1,1304.0 1073.1,1304.2 1074.1,1304.6 1075.1,1305.5 1076.1,1305.9 1077.1,1305.3 1078.1,1305.2 1079.1,1308.5 1080.1,1307.6 1081.1,1308.6 1082.1,1308.6 1083.1,1310.4 1084.1,1312.0 1085.1,1310.7 1086.1,1312.1 1087.1,1312.7 1088.1,1314.0 1089.1,1313.9 1090.1,1314.6 1091.1,1314.5 1092.1,1315.8 1093.1,1315.5 1094.1,1317.8 1095.1,1317.3 1096.1,1320.0 1097.1,1317.6 1098.1,1317.6 1099.1,1320.5 1100.1,1320.7 1101.1,1318.7 1102.1,1324.1 1103.1,1321.1 1104.1,1323.2 1105.1,1321.8 1106.1,1323.7 1107.1,1324.7 1108.1,1323.2 1109.1,1324.7 1110.1,1325.8 1111.1,1327.7 1112.1,1327.0 1113.1,1328.0 1114.1,1327.6 1115.1,1328.4 1116.1,1329.0 1117.1,1328.9 1118.1,1328.0 1119.1,1329.0 1120.1,1332.1 1121.1,1332.9 1122.1,1333.1 1123.1,1332.7 1124.1,1333.1 1125.1,1332.2 1126.1,1335.8 1127.1,1331.9 1128.1,1336.7 1129.1,1333.8 1130.1,1338.2 1131.1,1335.3 1132.1,1334.2 1133.1,1334.9 1134.1,1334.1 1135.1,1337.0 1136.1,1334.7 1137.1,1335.0 1138.1,1333.3 1139.1,1335.3 1140.1,1332.2 1141.1,1333.2 1142.1,1335.8 1143.1,1330.9 1144.1,1334.3 1145.1,1335.5 1146.1,1334.3 1147.1,1336.4 1148.1,1336.7 1149.1,1336.5 1150.1,1335.1 1151.1,1337.3 1152.1,1338.4 1153.1,1340.7 1154.1,1340.2 1155.1,1340.6 1156.1,1339.8 1157.1,1341.5 1158.1,1342.5 1159.1,1339.3 1160.1,1342.8 1161.1,1343.7 1162.1,1343.2 1163.1,1343.6 1164.1,1343.3 1165.1,1345.6 1166.1,1343.8 1167.1,1346.5 1168.1,1345.5 1169.1,1342.6 1170.1,1345.1 1171.1,1346.1 1172.1,1347.1 1173.1,1346.2 1174.1,1346.0 1175.1,1347.5 1176.1,1348.7 1177.1,1343.8 1178.1,1345.5 1179.1,1348.8 1180.1,1346.8 1181.1,1345.0 1182.1,1348.9 1183.1,1349.3 1184.1,1346.1 1185.1,1347.5 1186.1,1346.5 1187.1,1347.0 1188.1,1347.9 1189.1,1346.1 1190.1,1346.4 1191.1,1346.2 1192.1,1344.3 1193.1,1347.5 1194.1,1348.2 1195.1,1347.5 1196.1,1347.6 1197.1,1348.8 1198.1,1347.1 1199.1,1347.1 1200.1,1349.3 1201.1,1349.7 1202.1,1352.3 1203.1,1350.1 1204.1,1352.6 1205.1,1352.4 1206.1,1356.9 1207.1,1354.7 1208.1,1356.5 1209.1,1353.0 1210.1,1354.8 1211.1,1357.4 1212.1,1356.0 1213.1,1355.9 1214.1,1357.9 1215.1,1357.3 1216.1,1357.4 1217.1,1357.7 1218.1,1356.7 1219.1,1359.6 1220.1,1358.8 1221.1,1357.2 1222.1,1356.8 1223.1,1354.7 1224.1,1355.8 1225.1,1359.3 1226.1,1355.7 1227.1,1356.8 1228.1,1359.8 1229.1,1358.9 1230.1,1357.9 1231.1,1358.0 1232.1,1357.0 1233.1,1357.9 1234.1,1357.8 1235.1,1359.8 1236.1,1359.2 1237.1,1357.3 1238.1,1360.5 1239.1,1360.0 1240.1,1360.6 1241.1,1361.0 1242.1,1360.9 1243.1,1360.7 1244.1,1362.7 1245.1,1363.3 1246.1,1362.5 1247.1,1363.4 1248.1,1364.6 1249.1,1365.5 1250.1,1365.2 1251.1,1363.7 1252.1,1367.3 1253.1,1364.8 1254.1,1364.2 1255.1,1364.8 1256.1,1366.1 1257.1,1365.8 1258.1,1362.9 1259.1,1364.0 1260.1,1364.0 1261.1,1365.2 1262.1,1366.5 1263.1,1365.4 1264.1,1369.2 1265.1,1367.6 1266.1,1368.5 1267.1,1367.5 1268.1,1364.7 1269.1,1367.1 1270.1,1364.3 1271.1,1365.0 1272.1,1366.7 1273.1,1366.4 1274.1,1367.1 1275.1,1365.8 1276.1,1367.7 1277.1,1367.2 1278.1,1366.5 1279.1,1364.9 1280.1,1365.0 1281.1,1367.3 1282.1,1369.9 1283.1,1365.1 1284.1,1366.0 1285.1,1364.4 1286.1,1362.2 1287.1,1366.6 1288.1,1366.0 1289.1,1366.8 1290.1,1365.0 1291.1,1364.9 1292.1,1368.3 1293.1,1365.0 1294.1,1367.4 1295.1,1367.9 1296.1,1366.7 1297.1,1366.1 1298.1,1367.4 1299.1,1364.6 1300.1,1366.8 1301.1,1366.8 1302.1,1365.4 1303.1,1367.0 1304.1,1368.7 1305.1,1370.7 1306.1,1365.8 1307.1,1368.0 1308.1,1367.9 1309.1,1366.8 1310.1,1366.4 1311.1,1367.8 1312.1,1368.1 1313.1,1365.0 1314.1,1369.1 1315.1,1366.6 1316.1,1366.9 1317.1,1365.9 1318.1,1368.4 1319.1,1364.7 1320.1,1365.9 1321.1,1366.8 1322.1,1365.2 1323.1,1366.2 1324.1,1367.3 1325.1,1368.2 1326.1,1366.3 1327.1,1366.0 1328.1,1367.3 1329.1,1366.9 1330.1,1365.3 1331.1,1368.0 1332.1,1366.4 1333.1,1365.6 1334.1,1368.3 1335.1,1367.8 1336.1,1366.0 1337.1,1368.1 1338.1,1366.3 1339.1,1366.6 1340.1,1366.0 1341.1,1368.7 1342.1,1367.6 1343.1,1368.8 1344.1,1366.5 1345.1,1367.9 1346.1,1366.4 1347.1,1368.1 1348.1,1368.5 1349.1,1368.9 1350.1,1366.9 1351.1,1370.2 1352.1,1366.2 1353.1,1369.6 1354.1,1367.4 1355.1,1368.4 1356.1,1365.2 1357.1,1366.3 1358.1,1366.6 1359.1,1368.7 1360.1,1366.2 1361.1,1368.2 1362.1,1366.6 1363.1,1368.4 1364.1,1367.3 1365.1,1368.1 1366.1,1369.9 1367.1,1368.0 1368.1,1368.1 1369.1,1370.9 1370.1,1373.8 1371.1,1373.2 1372.1,1371.5 1373.1,1372.4 1374.1,1372.0 1375.1,1372.3 1376.1,1373.9 1377.1,1370.3 1378.1,1370.3 1379.1,1369.3 1380.1,1370.9 1381.1,1373.6 1382.1,1372.0 1383.1,1370.2 1384.1,1371.0 1385.1,1371.0 1386.1,1372.9 1387.1,1371.9 1388.1,1371.6 1389.1,1372.5 1390.1,1371.4 1391.1,1372.0 1392.1,1369.3 1393.1,1369.1 1394.1,1370.1 1395.1,1373.6 1396.1,1370.1 1397.1,1372.3 1398.1,1373.4 1399.1,1372.4 1400.1,1372.7 1401.1,1377.3 1402.1,1375.2 1403.1,1375.3 1404.1,1376.5 1405.1,1376.5 1406.1,1374.6 1407.1,1374.4 1408.1,1376.8 1409.1,1376.1 1410.1,1377.3 1411.1,1375.8 1412.1,1381.2 1413.1,1378.2 1414.1,1380.3 1415.1,1376.6 1416.1,1377.0 1417.1,1376.3 1418.1,1376.8 1419.1,1377.0 1420.1,1375.5 1421.1,1374.4 1422.1,1374.7 1423.1,1375.1 1424.1,1376.3 1425.1,1372.8 1426.1,1373.8 1427.1,1375.4 1428.1,1376.7 1429.1,1374.2 1430.1,1375.2 1431.1,1374.5 1432.1,1374.4 1433.1,1375.0 1434.1,1374.0 1435.1,1374.4 1436.1,1374.3 1437.1,1377.0 1438.1,1374.7 1439.1,1377.1 1440.1,1374.5 1441.1,1374.9 1442.1,1373.6 1443.1,1375.2 1444.1,1377.2 1445.1,1377.9 1446.1,1375.2 1447.1,1380.1 1448.1,1378.3 1449.1,1379.2 1450.1,1380.4 1451.1,1379.8 1452.1,1379.0 1453.1,1380.4 1454.1,1380.1 1455.1,1383.5 1456.1,1381.2 1457.1,1378.3 1458.1,1383.5 1459.1,1382.7 1460.1,1382.0 1461.1,1379.6 1462.1,1387.0 1463.1,1382.1 1464.1,1382.2 1465.1,1381.9 1466.1,1383.0 1467.1,1382.7 1468.1,1383.2 1469.1,1383.4 1470.1,1382.7 1471.1,1384.2 1472.1,1381.1 1473.1,1383.9 1474.1,1383.0 1475.1,1382.4 1476.1,1383.4 1477.1,1382.6 1478.1,1382.5 1479.1,1381.5 1480.1,1380.9 1481.1,1379.9 1482.1,1380.2 1483.1,1381.0 1484.1,1383.0 1485.1,1381.6 1486.1,1382.1 1487.1,1380.4 1488.1,1379.7 1489.1,1382.0 1490.1,1385.2 1491.1,1380.3 1492.1,1383.7 1493.1,1380.2 1494.1,1380.1 1495.1,1380.5 1496.1,1380.6 1497.1,1383.0 1498.1,1382.0 1499.1,1381.9 1500.1,1381.0 1501.1,1383.1 1502.1,1384.3 1503.1,1382.2 1504.1,1381.3 1505.1,1380.4 1506.1,1381.5 1507.1,1380.4 1508.1,1384.1 1509.1,1381.4 1510.1,1384.3 1511.1,1381.3 1512.1,1384.4 1513.1,1384.2 1514.1,1384.7 1515.1,1384.4 1516.1,1382.9 1517.1,1388.1 1518.1,1383.0 1519.1,1386.6 1520.1,1385.5 1521.1,1384.9 1522.1,1387.8 1523.1,1389.2 1524.1,1389.2 1525.1,1386.6 1526.1,1387.7 1527.1,1389.8 1528.1,1389.6 1529.1,1390.3 1530.1,1388.6 1531.1,1386.2 1532.1,1386.7 1533.1,1388.4 1534.1,1386.3 1535.1,1385.4 1536.1,1387.8 1537.1,1388.5 1538.1,1385.5 1539.1,1386.0 1540.1,1385.9 1541.1,1387.3 1542.1,1385.5 1543.1,1385.4 1544.1,1385.6 1545.1,1383.8 1546.1,1387.3 1547.1,1387.6 1548.1,1385.4 1549.1,1385.4 1550.1,1385.5 1551.1,1385.1 1552.1,1384.0 1553.1,1385.9 1554.1,1385.9 1555.1,1386.2 1556.1,1383.2 1557.1,1384.7 1558.1,1382.5 1559.1,1386.7 1560.1,1381.9 1561.1,1383.6 1562.1,1385.8 1563.1,1381.0 1564.1,1383.3 1565.1,1380.7 1566.1,1384.0 1567.1,1382.0 1568.1,1381.5 1569.1,1380.7 1570.1,1382.6 1571.1,1381.8 1572.1,1382.4 1573.1,1382.4 1574.1,1380.3 1575.1,1381.3 1576.1,1382.6 1577.1,1381.4 1578.1,1381.2 1579.1,1380.7 1580.1,1379.8 1581.1,1380.4 1582.1,1380.2 1583.1,1383.7 1584.1,1379.7 1585.1,1378.6 1586.1,1380.4 1587.1,1379.4 1588.1,1378.7 1589.1,1380.4 1590.1,1378.9 1591.1,1377.6 1592.1,1378.7 1593.1,1379.6 1594.1,1378.1 1595.1,1376.2 1596.1,1376.1 1597.1,1375.7 1598.1,1377.1 1599.1,1376.3 1600.1,1377.7 1601.1,1377.7 1602.1,1378.8 1603.1,1376.6 1604.1,1379.6 1605.1,1379.2 1606.1,1379.6 1607.1,1380.5 1608.1,1378.0 1609.1,1378.2 1610.1,1379.1 1611.1,1378.4 1612.1,1378.9 1613.1,1377.6 1614.1,1374.6 1615.1,1376.7 1616.1,1375.6 1617.1,1375.7 1618.1,1376.7 1619.1,1375.3 1620.1,1374.8 1621.1,1372.7 1622.1,1374.2 1623.1,1375.8 1624.1,1375.3 1625.1,1372.7 1626.1,1372.4 1627.1,1373.7 1628.1,1374.7 1629.1,1372.9 1630.1,1375.5 1631.1,1376.2 1632.1,1371.6 1633.1,1375.3 1634.1,1374.7 1635.1,1369.1 1636.1,1369.1 1637.1,1370.5 1638.1,1370.2 1639.1,1368.6 1640.1,1369.3 1641.1,1370.0 1642.1,1367.4 1643.1,1365.3 1644.1,1367.8 1645.1,1369.2 1646.1,1370.1 1647.1,1369.5 1648.1,1364.0 1649.1,1366.1 1650.1,1367.6 1651.1,1366.5 1652.1,1368.5 1653.1,1368.3 1654.1,1368.9 1655.1,1369.6 1656.1,1366.7 1657.1,1370.0 1658.1,1365.4 1659.1,1365.8 1660.1,1365.7 1661.1,1365.9 1662.1,1368.0 1663.1,1369.3 1664.1,1364.7 1665.1,1367.7 1666.1,1368.3 1667.1,1366.8 1668.1,1363.4 1669.1,1366.8 1670.1,1367.3 1671.1,1363.4 1672.1,1365.1 1673.1,1367.2 1674.1,1366.0 1675.1,1367.0 1676.1,1367.1 1677.1,1363.3 1678.1,1363.2 1679.1,1366.0 1680.1,1364.1 1681.1,1365.7 1682.1,1365.1 1683.1,1363.0 1684.1,1365.4 1685.1,1364.6 1686.1,1363.0 1687.1,1363.1 1688.1,1363.0 1689.1,1364.3 1690.1,1365.3 1691.1,1364.8 1692.1,1363.9 1693.1,1362.4 1694.1,1364.6 1695.1,1364.5 1696.1,1363.9 1697.1,1363.8 1698.1,1367.4 1699.1,1367.4 1700.1,1363.4 1701.1,1366.8 1702.1,1366.0 1703.1,1368.0 1704.1,1364.1 1705.1,1366.6 1706.1,1364.2 1707.1,1364.5 1708.1,1365.0 1709.1,1365.9 1710.1,1364.6 1711.1,1362.1 1712.1,1365.4 1713.1,1364.2 1714.1,1363.8 1715.1,1361.7 1716.1,1363.6 1717.1,1365.9 1718.1,1366.1 1719.1,1365.0 1720.1,1363.1 1721.1,1365.6 1722.1,1363.3 1723.1,1365.7 1724.1,1363.9 1725.1,1362.5 1726.1,1365.4 1727.1,1365.1 1728.1,1365.1 1729.1,1363.6 1730.1,1363.4 1731.1,1366.6 1732.1,1364.9 1733.1,1367.3 1734.1,1367.3 1735.1,1363.3 1736.1,1364.3 1737.1,1360.5 1738.1,1364.5 1739.1,1363.5 1740.1,1364.7 1741.1,1363.7 1742.1,1363.3 1743.1,1362.8 1744.1,1362.7 1745.1,1365.4 1746.1,1364.5 1747.1,1366.6 1748.1,1364.6 1749.1,1362.8 1750.1,1362.7 1751.1,1365.7 1752.1,1360.8 1753.1,1363.8 1754.1,1363.7 1755.1,1361.3 1756.1,1366.0 1757.1,1364.9 1758.1,1365.0 1759.1,1364.5 1760.1,1366.0 1761.1,1366.2 1762.1,1368.1 1763.1,1366.5 1764.1,1370.6 1765.1,1366.6 1766.1,1367.7 1767.1,1366.7 1768.1,1368.9 1769.1,1367.2 1770.1,1369.9 1771.1,1369.4 1772.1,1368.6 1773.1,1365.6 1774.1,1368.1 1775.1,1368.1 1776.1,1369.2 1777.1,1366.5 1778.1,1369.6 1779.1,1369.9 1780.1,1369.4 1781.1,1370.4 1782.1,1370.0 1783.1,1372.3 1784.1,1370.6 1785.1,1371.9 1786.1,1376.2 1787.1,1374.1 1788.1,1374.9 1789.1,1374.8 1790.1,1376.3 1791.1,1377.8 1792.1,1377.3 1793.1,1378.1 1794.1,1380.1 1795.1,1383.0 1796.1,1382.5 1797.1,1386.1 1798.1,1386.1 1799.1,1386.9 1800.1,1387.4 1801.1,1389.5 1802.1,1392.9 1803.1,1391.0 1804.1,1393.8 1805.1,1396.3 1806.1,1397.2 1807.1,1398.0 1808.1,1398.9 1809.1,1401.4 1810.1,1400.9 1811.1,1404.9 1812.1,1404.8 1813.1,1406.0 1814.1,1409.1 1815.1,1411.4 1816.1,1413.7 1817.1,1415.8 1818.1,1419.5 1819.1,1424.1 1820.1,1428.2 1821.1,1432.9 1822.1,1436.7 1823.1,1440.7 1824.1,1445.4 1825.1,1449.0 1826.1,1451.8 1827.1,1454.2 1828.1,1456.2 1829.1,1458.3 1830.1,1459.8 1831.1,1459.8 1832.1,1462.5 1833.1,1462.9 1834.1,1462.4 1835.1,1463.5 1836.1,1463.5 1837.1,1464.5 1838.1,1462.2 1839.1,1462.6 1840.1,1466.5 1841.1,1465.4 1842.1,1468.0 1843.1,1468.7 1844.1,1467.7 1845.1,1470.2 1846.1,1467.2 1847.1,1469.1 1848.1,1467.7 1849.1,1470.0 1850.1,1471.7 1851.1,1470.8 1852.1,1471.3 1853.1,1469.8 1854.1,1471.7 1855.1,1470.5 1856.1,1471.9 1857.1,1470.9 1858.1,1473.4 1859.1,1473.1 1860.1,1472.9 1861.1,1473.7 1862.1,1474.5 1863.1,1472.8 1864.1,1472.0 1865.1,1472.2 1866.1,1475.6 1867.1,1473.9 1868.1,1472.0 1869.1,1472.2 1870.1,1475.5 1871.1,1473.7 1872.1,1476.6 1873.1,1476.5 1874.1,1474.3 1875.1,1474.6 1876.1,1474.0 1877.1,1476.6 1878.1,1474.1 1879.1,1476.9 1880.1,1476.2 1881.1,1479.1 1882.1,1476.9 1883.1,1476.7 1884.1,1478.9 1885.1,1477.2 1886.1,1479.8 1887.1,1478.9 1888.1,1478.9 1889.1,1479.6 1890.1,1479.9 1891.1,1478.8 1892.1,1481.5 1893.1,1480.7 1894.1,1480.0 1895.1,1482.9 1896.1,1481.5 1897.1,1483.6 1898.1,1478.8 1899.1,1483.4 1900.1,1481.7 1901.1,1484.0 1902.1,1481.7 1903.1,1480.9 1904.1,1480.7 1905.1,1482.2 1906.1,1479.3 1907.1,1480.9 1908.1,1479.9 1909.1,1484.6 1910.1,1481.8 1911.1,1480.6 1912.1,1476.6 1913.1,1480.4 1914.1,1479.5 1915.1,1480.1 1916.1,1480.0 1917.1,1478.7 1918.1,1477.7 1919.1,1478.6 1920.1,1478.4 1921.1,1478.1 1922.1,1477.6 1923.1,1477.6 1924.1,1475.5 1925.1,1476.9 1926.1,1474.8 1927.1,1474.9 1928.1,1473.6 1929.1,1473.8 1930.1,1474.5 1931.1,1472.5 1932.1,1471.3 1933.1,1470.5 1934.1,1468.9 1935.1,1467.4 1936.1,1465.8 1937.1,1468.0 1938.1,1468.2 1939.1,1468.2 1940.1,1464.4 1941.1,1465.6 1942.1,1467.2 1943.1,1465.8 1944.1,1467.3 1945.1,1467.4 1946.1,1464.2 1947.1,1467.2 1948.1,1465.9 1949.1,1465.3 1950.1,1466.7 1951.1,1465.5 1952.1,1464.3 1953.1,1468.1 1954.1,1467.9 1955.1,1468.2 1956.1,1468.0 1957.1,1466.3 1958.1,1468.6 1959.1,1471.3 1960.1,1470.3 1961.1,1470.3 1962.1,1471.0 1963.1,1470.6 1964.1,1471.0 1965.1,1470.9 1966.1,1469.7 1967.1,1470.1 1968.1,1470.0 1969.1,1469.7 1970.1,1472.5 1971.1,1468.4 1972.1,1466.8 1973.1,1467.7 1974.1,1465.3 1975.1,1469.0 1976.1,1465.6 1977.1,1465.4 1978.1,1465.1 1979.1,1465.1 1980.1,1462.7 1981.1,1463.0 1982.1,1461.7 1983.1,1461.3 1984.1,1461.5 1985.1,1459.4 1986.1,1461.4 1987.1,1459.0 1988.1,1459.7 1989.1,1457.4 1990.1,1457.6 1991.1,1456.2 1992.1,1457.7 1993.1,1456.3 1994.1,1455.0 1995.1,1454.1 1996.1,1458.2 1997.1,1455.6 1998.1,1455.6 1999.1,1456.0 2000.1,1454.8 2001.1,1455.6 2002.1,1453.4 2003.1,1453.6 2004.1,1455.2 2005.1,1451.0 2006.1,1452.4 2007.1,1451.0 2008.1,1453.6 2009.1,1450.7 2010.1,1451.0 2011.1,1450.6 2012.1,1449.0 2013.1,1449.4 2014.1,1448.6 2015.1,1450.5 2016.1,1447.9 2017.1,1450.2 2018.1,1448.9 2019.1,1449.5 2020.1,1450.3 2021.1,1449.8 2022.1,1449.4 2023.1,1448.3 2024.1,1449.3 2025.1,1450.2 2026.1,1451.6 2027.1,1451.5 2028.1,1452.1" stroke="#98656a" stroke-width="10.2"/>
</g>
<g fill="#000" stroke="none">
<rect x="338" y="1290.6" width="71" height="7.6"/>
<path d="M309.5,1294.4 L340.5,1278.6 L340.5,1310.2 Z"/>
</g>
<g stroke="#000" stroke-width="5.0" fill="none" stroke-linecap="butt">
<line x1="283.1" y1="71.9" x2="283.1" y2="1514.8"/>
<line x1="2029.6" y1="71.9" x2="2029.6" y2="1489.9"/>
<line x1="255.2" y1="1487.4" x2="2057.6" y2="1487.4"/>
<line x1="255.2" y1="1017.90" x2="283.1" y2="1017.90"/>
<line x1="255.2" y1="546.30" x2="283.1" y2="546.30"/>
<line x1="255.2" y1="76.70" x2="283.1" y2="76.70"/>
<line x1="270.2" y1="1252.28" x2="283.1" y2="1252.28"/>
<line x1="270.2" y1="782.03" x2="283.1" y2="782.03"/>
<line x1="270.2" y1="311.78" x2="283.1" y2="311.78"/>
<line x1="2029.6" y1="1296.30" x2="2057.6" y2="1296.30"/>
<line x1="2029.6" y1="1105.20" x2="2057.6" y2="1105.20"/>
<line x1="2029.6" y1="914.10" x2="2057.6" y2="914.10"/>
<line x1="2029.6" y1="723.00" x2="2057.6" y2="723.00"/>
<line x1="2029.6" y1="531.90" x2="2057.6" y2="531.90"/>
<line x1="2029.6" y1="340.80" x2="2057.6" y2="340.80"/>
<line x1="2029.6" y1="149.70" x2="2057.6" y2="149.70"/>
<line x1="2029.6" y1="1391.85" x2="2042.3" y2="1391.85"/>
<line x1="2029.6" y1="1200.75" x2="2042.3" y2="1200.75"/>
<line x1="2029.6" y1="1009.65" x2="2042.3" y2="1009.65"/>
<line x1="2029.6" y1="818.55" x2="2042.3" y2="818.55"/>
<line x1="2029.6" y1="627.45" x2="2042.3" y2="627.45"/>
<line x1="2029.6" y1="436.35" x2="2042.3" y2="436.35"/>
<line x1="2029.6" y1="245.25" x2="2042.3" y2="245.25"/>
<line x1="1078.30" y1="1487.4" x2="1078.30" y2="1514.8"/>
<line x1="1870.80" y1="1487.4" x2="1870.80" y2="1514.8"/>
<line x1="679.60" y1="1487.4" x2="679.60" y2="1500"/>
<line x1="1474.30" y1="1487.4" x2="1474.30" y2="1500"/>
</g>
<g font-size="59.3">
<text transform="translate(235.4,1504.4) scale(1,1.025)" text-anchor="end">0</text>
<text transform="translate(235.4,1032.7) scale(1,1.025)" text-anchor="end">200</text>
<text transform="translate(235.4,563.2) scale(1,1.025)" text-anchor="end">400</text>
<text transform="translate(235.4,91.5) scale(1,1.025)" text-anchor="end">600</text>
<text transform="translate(2074.0,1504.7) scale(1,1.025)" text-anchor="start">0</text>
<text transform="translate(2074.0,1313.6) scale(1,1.025)" text-anchor="start">5</text>
<text transform="translate(2074.0,1122.5) scale(1,1.025)" text-anchor="start">10</text>
<text transform="translate(2074.0,931.4) scale(1,1.025)" text-anchor="start">15</text>
<text transform="translate(2074.0,740.3) scale(1,1.025)" text-anchor="start">20</text>
<text transform="translate(2074.0,549.2) scale(1,1.025)" text-anchor="start">25</text>
<text transform="translate(2074.0,358.1) scale(1,1.025)" text-anchor="start">30</text>
<text transform="translate(2074.0,167.0) scale(1,1.025)" text-anchor="start">35</text>
<text transform="translate(281.6,1580.4) scale(1,1.025)" text-anchor="middle">0</text>
<text transform="translate(1075.5,1580.4) scale(1,1.025)" text-anchor="middle">50</text>
<text transform="translate(1869.3,1580.4) scale(1,1.025)" text-anchor="middle">100</text>
</g>
<g font-size="73.7">
<text transform="translate(1157.0,1694) scale(1,1.015)" text-anchor="middle" font-size="73.3">Time (min)</text>
<text transform="translate(93.8,779.2) rotate(-90) scale(1,1.015)" text-anchor="middle">Temperature (°C)</text>
<text transform="translate(2232,1359.2) rotate(-90) scale(1,1.015)" text-anchor="start">CO<tspan font-size="53.1" dy="20.7">2</tspan><tspan dy="-20.7" dx="-1.8"> desorbed</tspan><tspan dx="-3.6"> (nmol CO</tspan><tspan font-size="53.1" dy="20.7">2</tspan><tspan dy="-20.7" dx="-1.8"> g</tspan><tspan font-size="53.1" dy="-30">−1</tspan><tspan dy="30" dx="-6"> min</tspan><tspan font-size="53.1" dy="-30" dx="-3.5">−1</tspan><tspan dy="30">)</tspan></text>
</g>
<g font-size="73.7">
<line x1="1557.9" y1="56.5" x2="1729.3" y2="56.5" stroke="#0b9fa0" stroke-width="9.8"/>
<text transform="translate(1744.4,81.2) scale(1,1.012)">500 °C</text>
<line x1="1557.9" y1="147.2" x2="1729.3" y2="147.2" stroke="#fccf4d" stroke-width="9.8"/>
<text transform="translate(1744.4,171.9) scale(1,1.012)">700 °C</text>
<line x1="1557.9" y1="237.9" x2="1729.3" y2="237.9" stroke="#98656a" stroke-width="9.8"/>
<text transform="translate(1744.4,262.6) scale(1,1.012)">900 °C</text>
</g>
</svg></body></html>
